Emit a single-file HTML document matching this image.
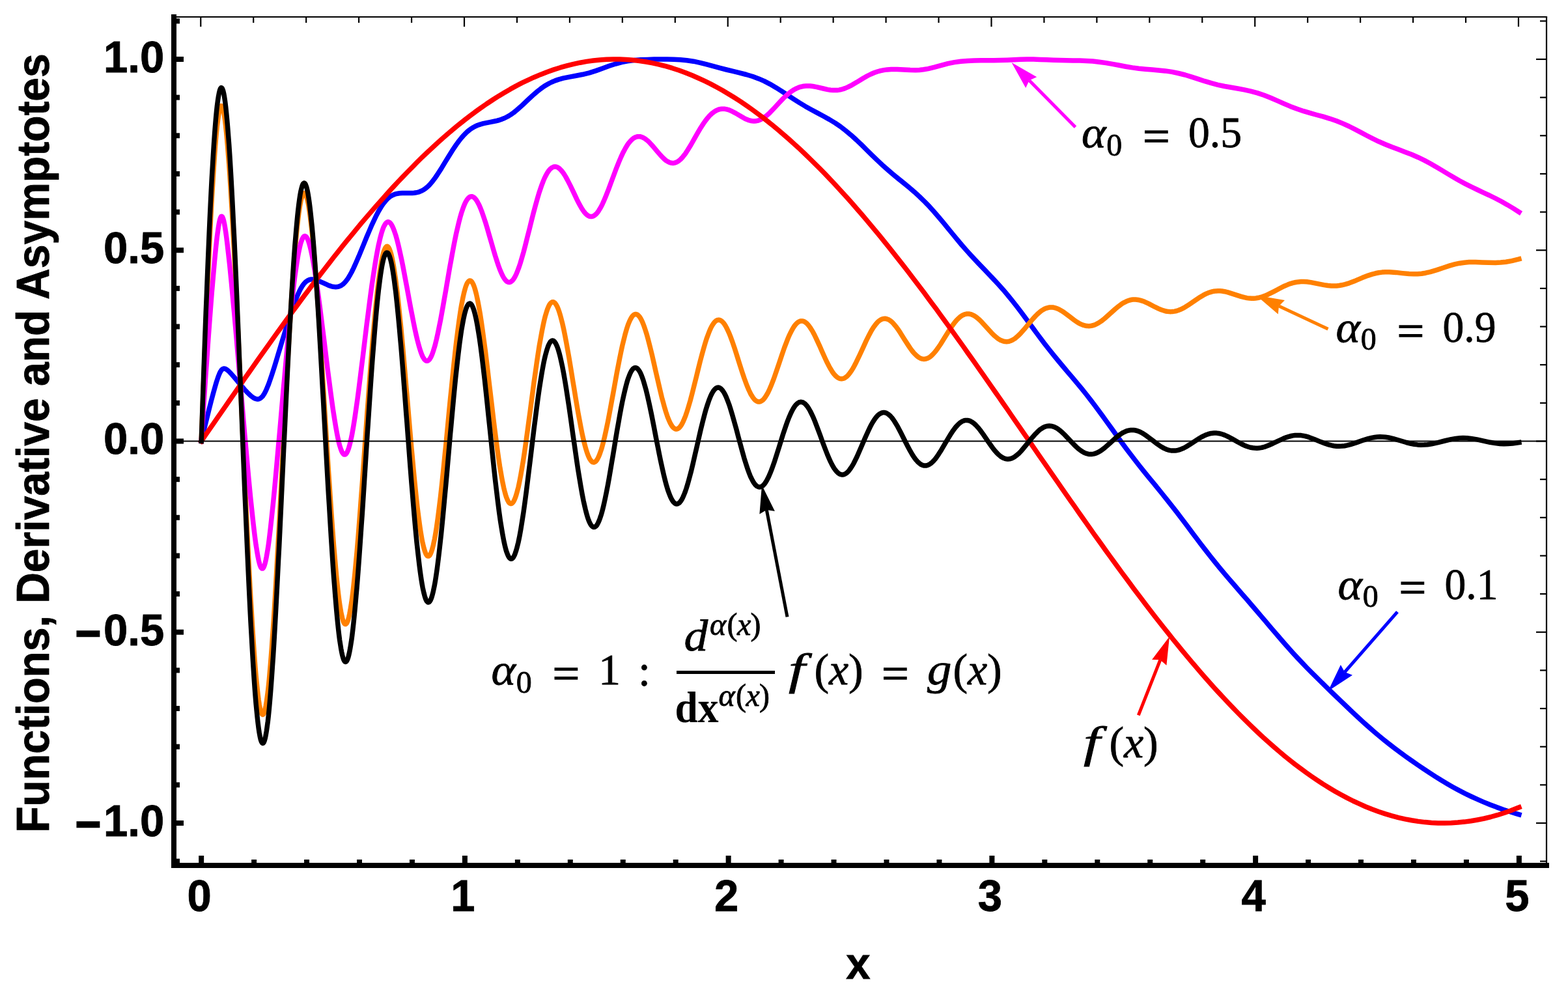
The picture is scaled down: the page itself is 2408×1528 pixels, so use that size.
<!DOCTYPE html>
<html lang="en"><head><meta charset="utf-8"><title>Functions, Derivative and Asymptotes</title>
<style>html,body{margin:0;padding:0;background:#fff;}body{width:2408px;height:1528px;overflow:hidden;}svg{display:block;}.sb{font-family:"Liberation Sans",sans-serif;font-weight:bold;fill:#000;}.se{font-family:"Liberation Serif",serif;fill:#000;}.it{font-style:italic;}.bd{font-weight:bold;}</style></head><body>
<svg width="2408" height="1528" viewBox="0 0 2408 1528">
<rect x="0" y="0" width="2408" height="1528" fill="#fff"/>
<g fill="none" stroke-width="7.5" stroke-linejoin="round" stroke-linecap="square">
<path stroke="#0000ff" d="M309.2 677.5 L312.2 664.8 L315.2 652.3 L318.3 639.9 L321.3 627.7 L324.3 615.8 L327.4 604.3 L330.4 593.4 L332.4 586.6 L334.5 580.4 L335.5 577.6 L336.5 575.1 L337.5 572.8 L338.5 570.8 L339.5 569.2 L340.5 567.9 L341.5 567.0 L342.6 566.4 L343.6 566.1 L344.6 566.1 L345.6 566.3 L346.6 566.7 L347.6 567.2 L348.6 567.9 L349.6 568.7 L351.7 570.5 L354.7 573.6 L361.8 581.8 L368.9 590.3 L375.9 598.5 L380.0 602.9 L383.0 605.8 L385.0 607.6 L387.1 609.3 L389.1 610.7 L390.1 611.3 L391.1 611.8 L392.1 612.2 L393.1 612.6 L394.2 612.8 L395.2 612.9 L396.2 612.9 L397.2 612.8 L398.2 612.5 L399.2 612.0 L400.2 611.4 L401.2 610.6 L402.3 609.6 L403.3 608.5 L404.3 607.1 L405.3 605.5 L406.3 603.8 L407.3 601.9 L408.3 599.9 L410.3 595.3 L412.4 590.2 L414.4 584.6 L417.4 575.7 L421.5 563.0 L424.5 553.1 L427.5 543.0 L430.6 532.9 L433.6 522.8 L436.7 512.8 L439.7 502.9 L442.7 493.2 L446.8 480.8 L450.8 469.2 L453.9 461.1 L455.9 456.0 L457.9 451.3 L459.9 447.0 L461.9 443.1 L463.0 441.4 L464.0 439.7 L465.0 438.2 L466.0 436.8 L467.0 435.5 L468.0 434.4 L469.0 433.4 L470.0 432.5 L471.1 431.7 L472.1 431.0 L473.1 430.4 L474.1 430.0 L475.1 429.6 L476.1 429.3 L477.1 429.1 L478.1 429.0 L479.2 428.9 L480.2 429.0 L482.2 429.2 L484.2 429.6 L486.2 430.2 L489.3 431.3 L498.4 435.4 L503.4 437.7 L506.5 438.9 L509.5 439.8 L511.5 440.3 L513.6 440.6 L515.6 440.7 L517.6 440.6 L518.6 440.4 L519.6 440.2 L520.6 439.9 L521.6 439.5 L522.7 439.1 L523.7 438.6 L524.7 438.0 L525.7 437.3 L526.7 436.5 L527.7 435.6 L528.7 434.6 L529.7 433.6 L531.8 431.1 L533.8 428.4 L535.8 425.2 L537.8 421.8 L539.9 418.0 L542.9 411.9 L546.9 403.0 L551.0 393.6 L555.0 383.8 L559.1 373.9 L563.1 364.0 L567.2 354.4 L571.2 345.1 L575.3 336.4 L578.3 330.2 L581.3 324.5 L584.4 319.3 L586.4 316.1 L588.4 313.2 L590.5 310.5 L592.5 308.1 L594.5 305.9 L596.5 304.0 L598.5 302.4 L600.6 301.0 L602.6 299.9 L604.6 299.0 L606.6 298.2 L608.7 297.6 L610.7 297.2 L613.7 296.8 L617.8 296.5 L627.9 296.6 L633.0 296.5 L636.0 296.3 L639.0 295.8 L641.0 295.4 L643.1 294.9 L645.1 294.1 L647.1 293.3 L649.1 292.2 L651.2 291.0 L653.2 289.6 L655.2 288.0 L657.2 286.2 L659.3 284.2 L661.3 282.0 L664.3 278.3 L667.4 274.3 L671.4 268.5 L677.5 259.1 L683.5 249.1 L689.6 239.2 L695.7 229.6 L700.7 222.1 L704.8 216.5 L708.8 211.5 L711.9 208.0 L714.9 204.9 L717.9 202.0 L721.0 199.5 L724.0 197.4 L727.1 195.5 L730.1 193.9 L733.1 192.5 L737.2 191.1 L742.2 189.7 L752.4 187.6 L761.5 185.8 L766.5 184.5 L770.6 183.1 L774.6 181.5 L777.6 180.0 L780.7 178.4 L784.7 175.9 L788.8 173.0 L793.8 168.9 L801.9 161.7 L810.0 154.0 L818.1 146.5 L825.2 140.4 L830.3 136.4 L835.3 132.8 L839.4 130.3 L843.4 128.0 L847.5 126.0 L852.5 123.9 L857.6 122.1 L864.7 120.2 L874.8 118.1 L884.9 116.3 L895.0 114.3 L905.1 111.8 L915.3 108.6 L925.4 105.0 L935.5 101.3 L945.6 98.0 L954.7 95.6 L963.8 93.9 L973.9 92.6 L984.1 91.8 L994.2 91.4 L1004.3 91.1 L1014.4 91.0 L1024.5 91.0 L1034.7 91.2 L1044.8 91.7 L1054.9 92.7 L1065.0 94.2 L1075.1 96.3 L1085.2 98.9 L1095.4 101.6 L1105.5 104.4 L1115.6 107.0 L1125.7 109.4 L1135.8 111.8 L1146.0 114.5 L1156.1 117.5 L1165.2 120.9 L1173.3 124.4 L1182.4 129.1 L1191.5 134.4 L1200.6 140.1 L1209.7 146.1 L1218.8 152.1 L1227.9 157.9 L1237.0 163.4 L1246.1 168.5 L1255.2 173.4 L1264.3 178.3 L1273.5 183.4 L1282.6 188.9 L1290.7 194.4 L1298.7 200.6 L1306.8 207.3 L1314.9 214.6 L1323.0 222.3 L1331.1 230.3 L1339.2 238.3 L1347.3 246.1 L1355.4 253.7 L1363.5 260.9 L1371.6 267.8 L1379.7 274.5 L1387.8 281.0 L1395.9 287.7 L1404.0 294.6 L1412.1 302.0 L1420.2 309.9 L1427.3 317.2 L1434.3 325.1 L1441.4 333.3 L1448.5 341.7 L1455.6 350.3 L1462.7 359.0 L1469.8 367.6 L1476.8 376.0 L1483.9 384.1 L1491.0 392.0 L1498.1 399.6 L1505.2 407.1 L1512.2 414.4 L1519.3 421.8 L1526.4 429.3 L1533.5 437.0 L1540.6 444.9 L1547.7 453.3 L1554.7 462.0 L1561.8 471.0 L1567.9 479.0 L1574.0 487.2 L1580.0 495.4 L1586.1 503.6 L1592.2 511.9 L1598.3 520.0 L1604.3 527.9 L1611.4 537.0 L1618.5 545.9 L1625.6 554.5 L1632.7 563.0 L1639.7 571.3 L1646.8 579.7 L1653.9 588.1 L1661.0 596.7 L1668.1 605.5 L1675.2 614.6 L1681.2 622.5 L1687.3 630.7 L1693.4 639.0 L1699.4 647.4 L1705.5 655.8 L1711.6 664.3 L1717.7 672.7 L1723.7 681.0 L1729.8 689.3 L1735.9 697.3 L1743.0 706.5 L1750.0 715.5 L1757.1 724.4 L1764.2 733.1 L1771.3 741.7 L1778.4 750.3 L1785.4 759.0 L1792.5 767.9 L1799.6 776.8 L1806.7 785.9 L1813.8 795.2 L1819.9 803.2 L1825.9 811.3 L1832.0 819.4 L1838.1 827.4 L1844.1 835.4 L1851.2 844.6 L1858.3 853.7 L1865.4 862.6 L1872.5 871.3 L1879.6 879.8 L1886.6 888.1 L1893.7 896.3 L1900.8 904.5 L1907.9 912.7 L1915.0 920.8 L1922.0 929.0 L1929.1 937.3 L1936.2 945.6 L1943.3 953.9 L1950.4 962.3 L1957.5 970.6 L1964.5 978.8 L1971.6 987.0 L1978.7 995.0 L1985.8 1002.9 L1992.9 1010.6 L2000.0 1018.1 L2007.0 1025.5 L2014.1 1032.7 L2021.2 1039.7 L2029.3 1047.7 L2037.4 1055.6 L2045.5 1063.5 L2053.6 1071.3 L2061.7 1079.0 L2069.8 1086.8 L2077.9 1094.4 L2086.0 1102.0 L2094.1 1109.4 L2102.2 1116.6 L2110.3 1123.7 L2118.3 1130.5 L2126.4 1137.1 L2134.5 1143.5 L2142.6 1149.7 L2150.7 1155.8 L2158.8 1161.7 L2167.9 1168.1 L2177.0 1174.5 L2186.1 1180.7 L2195.2 1186.7 L2204.4 1192.6 L2213.5 1198.3 L2222.6 1203.7 L2231.7 1208.9 L2240.8 1213.9 L2249.9 1218.6 L2259.0 1223.0 L2268.1 1227.2 L2278.2 1231.6 L2288.3 1235.7 L2298.5 1239.6 L2308.6 1243.2 L2318.7 1246.5 L2328.8 1249.6 L2332.9 1250.8"/>
<path stroke="#ff8000" d="M309.2 677.5 L310.2 651.0 L311.2 624.8 L312.2 598.7 L313.2 573.0 L314.2 547.6 L315.2 522.6 L316.2 498.0 L317.3 473.9 L318.3 450.4 L319.3 427.5 L320.3 405.2 L321.3 383.6 L322.3 362.7 L323.3 342.6 L324.3 323.3 L325.3 304.9 L326.4 287.4 L327.4 270.8 L328.4 255.2 L329.4 240.7 L330.4 227.2 L331.4 214.8 L332.4 203.7 L333.4 193.7 L334.5 185.0 L335.5 177.6 L336.5 171.7 L337.5 167.1 L338.5 164.1 L339.5 162.6 L340.5 162.7 L341.5 164.3 L342.6 167.4 L343.6 171.9 L344.6 177.8 L345.6 185.0 L346.6 193.5 L347.6 203.1 L348.6 213.8 L349.6 225.6 L350.6 238.4 L351.7 252.0 L352.7 266.6 L353.7 282.0 L354.7 298.2 L355.7 315.2 L356.7 332.8 L357.7 351.1 L358.7 370.0 L359.8 389.5 L360.8 409.5 L361.8 429.9 L362.8 450.8 L363.8 472.0 L364.8 493.6 L365.8 515.4 L366.8 537.5 L367.8 559.8 L368.9 582.1 L369.9 604.6 L370.9 627.1 L371.9 649.6 L372.9 672.1 L373.9 694.4 L374.9 716.6 L375.9 738.5 L377.0 760.2 L378.0 781.7 L379.0 802.8 L380.0 823.5 L381.0 843.7 L382.0 863.5 L383.0 882.8 L384.0 901.5 L385.0 919.6 L386.1 937.1 L387.1 953.8 L388.1 969.9 L389.1 985.2 L390.1 999.6 L391.1 1013.2 L392.1 1026.0 L393.1 1037.8 L394.2 1048.6 L395.2 1058.4 L396.2 1067.2 L397.2 1075.0 L398.2 1081.6 L399.2 1087.1 L400.2 1091.4 L401.2 1094.6 L402.3 1096.6 L403.3 1097.4 L404.3 1097.0 L405.3 1095.4 L406.3 1092.6 L407.3 1088.7 L408.3 1083.7 L409.3 1077.5 L410.3 1070.3 L411.4 1062.1 L412.4 1052.9 L413.4 1042.8 L414.4 1031.7 L415.4 1019.8 L416.4 1007.1 L417.4 993.7 L418.4 979.5 L419.5 964.6 L420.5 949.1 L421.5 933.1 L422.5 916.4 L423.5 899.3 L424.5 881.8 L425.5 863.8 L426.5 845.5 L427.5 826.9 L428.6 808.0 L429.6 788.9 L430.6 769.6 L431.6 750.2 L432.6 730.6 L433.6 711.1 L434.6 691.5 L435.6 672.0 L436.7 652.6 L437.7 633.3 L438.7 614.1 L439.7 595.2 L440.7 576.6 L441.7 558.2 L442.7 540.2 L443.7 522.6 L444.7 505.3 L445.8 488.6 L446.8 472.3 L447.8 456.5 L448.8 441.4 L449.8 426.8 L450.8 412.8 L451.8 399.5 L452.8 386.9 L453.9 375.0 L454.9 363.9 L455.9 353.5 L456.9 344.0 L457.9 335.3 L458.9 327.4 L459.9 320.3 L460.9 314.2 L461.9 308.9 L463.0 304.6 L464.0 301.2 L465.0 298.7 L466.0 297.1 L467.0 296.5 L468.0 296.7 L469.0 297.9 L470.0 300.0 L471.1 303.0 L472.1 306.9 L473.1 311.6 L474.1 317.2 L475.1 323.6 L476.1 330.8 L477.1 338.7 L478.1 347.4 L479.2 356.8 L480.2 366.8 L481.2 377.6 L482.2 388.9 L483.2 400.8 L484.2 413.3 L485.2 426.3 L486.2 439.7 L487.2 453.6 L488.3 468.0 L489.3 482.6 L490.3 497.7 L491.3 513.0 L492.3 528.6 L493.3 544.4 L494.3 560.4 L495.3 576.5 L496.4 592.8 L497.4 609.1 L498.4 625.4 L499.4 641.8 L500.4 658.1 L501.4 674.3 L502.4 690.4 L503.4 706.4 L504.4 722.2 L505.5 737.7 L506.5 753.0 L507.5 767.9 L508.5 782.6 L509.5 796.8 L510.5 810.7 L511.5 824.1 L512.5 837.0 L513.6 849.5 L514.6 861.4 L515.6 872.7 L516.6 883.5 L517.6 893.6 L518.6 903.1 L519.6 911.9 L520.6 920.0 L521.6 927.4 L522.7 934.0 L523.7 939.9 L524.7 944.9 L525.7 949.2 L526.7 952.7 L527.7 955.4 L528.7 957.3 L529.7 958.3 L530.8 958.5 L531.8 957.9 L532.8 956.5 L533.8 954.2 L534.8 951.2 L535.8 947.4 L536.8 942.8 L537.8 937.5 L538.8 931.4 L539.9 924.7 L540.9 917.3 L541.9 909.2 L542.9 900.5 L544.9 881.3 L545.9 870.9 L546.9 860.0 L548.0 848.7 L549.0 836.9 L550.0 824.7 L551.0 812.1 L552.0 799.2 L553.0 786.0 L554.0 772.5 L555.0 758.9 L556.1 745.0 L557.1 730.9 L558.1 716.8 L559.1 702.5 L560.1 688.2 L561.1 673.9 L562.1 659.6 L563.1 645.3 L564.1 631.1 L565.2 617.1 L566.2 603.2 L567.2 589.4 L568.2 575.9 L569.2 562.6 L570.2 549.6 L571.2 536.8 L572.2 524.4 L573.3 512.4 L574.3 500.7 L575.3 489.5 L576.3 478.6 L577.3 468.3 L579.3 449.0 L580.3 440.1 L581.3 431.8 L582.4 424.0 L583.4 416.8 L584.4 410.2 L585.4 404.1 L586.4 398.7 L587.4 393.9 L588.4 389.8 L589.4 386.2 L590.5 383.4 L591.5 381.1 L592.5 379.6 L593.5 378.6 L594.5 378.3 L595.5 378.7 L596.5 379.7 L597.5 381.3 L598.5 383.6 L599.6 386.5 L600.6 390.0 L601.6 394.0 L602.6 398.7 L603.6 403.9 L604.6 409.7 L605.6 416.0 L606.6 422.8 L607.7 430.0 L609.7 446.0 L611.7 463.7 L613.7 482.9 L614.7 492.9 L615.8 503.3 L616.8 514.0 L617.8 524.9 L618.8 536.0 L619.8 547.4 L620.8 558.8 L621.8 570.5 L622.8 582.2 L623.8 594.0 L624.9 605.8 L625.9 617.7 L626.9 629.6 L627.9 641.4 L628.9 653.2 L629.9 664.9 L630.9 676.4 L631.9 687.8 L633.0 699.1 L634.0 710.1 L635.0 720.9 L636.0 731.4 L637.0 741.6 L639.0 761.2 L641.0 779.3 L643.1 795.7 L644.1 803.3 L645.1 810.4 L646.1 817.1 L647.1 823.2 L648.1 828.8 L649.1 833.9 L650.2 838.4 L651.2 842.4 L652.2 845.8 L653.2 848.6 L654.2 850.9 L655.2 852.6 L656.2 853.7 L657.2 854.1 L658.2 854.1 L659.3 853.4 L660.3 852.1 L661.3 850.3 L662.3 847.9 L663.3 844.9 L664.3 841.4 L665.3 837.4 L666.3 832.8 L667.4 827.7 L668.4 822.2 L669.4 816.2 L670.4 809.7 L672.4 795.5 L674.4 779.8 L676.5 762.7 L678.5 744.5 L680.5 725.3 L682.5 705.3 L683.5 695.2 L684.6 684.9 L685.6 674.5 L686.6 664.0 L687.6 653.6 L688.6 643.1 L689.6 632.6 L690.6 622.2 L691.6 611.9 L692.7 601.6 L693.7 591.5 L694.7 581.5 L696.7 562.0 L698.7 543.4 L700.7 525.7 L702.8 509.2 L704.8 494.0 L706.8 480.2 L707.8 473.9 L708.8 468.0 L709.9 462.4 L710.9 457.3 L711.9 452.7 L712.9 448.4 L713.9 444.7 L714.9 441.3 L715.9 438.4 L716.9 436.0 L717.9 434.1 L719.0 432.6 L720.0 431.6 L721.0 431.0 L722.0 430.9 L723.0 431.3 L724.0 432.1 L725.0 433.4 L726.0 435.1 L727.1 437.3 L728.1 439.9 L729.1 442.9 L730.1 446.4 L731.1 450.2 L732.1 454.5 L733.1 459.1 L734.1 464.1 L735.1 469.4 L737.2 481.1 L739.2 494.0 L741.2 508.0 L743.2 522.9 L745.3 538.6 L747.3 555.0 L749.3 571.8 L751.3 588.9 L753.4 606.1 L755.4 623.2 L757.4 640.2 L759.4 656.7 L761.5 672.7 L763.5 688.0 L765.5 702.5 L767.5 715.9 L769.6 728.1 L770.6 733.8 L771.6 739.1 L772.6 744.1 L773.6 748.8 L774.6 753.0 L775.6 756.9 L776.6 760.4 L777.6 763.5 L778.7 766.2 L779.7 768.5 L780.7 770.3 L781.7 771.8 L782.7 772.8 L783.7 773.4 L784.7 773.5 L785.7 773.3 L786.8 772.6 L787.8 771.5 L788.8 770.0 L789.8 768.1 L790.8 765.8 L791.8 763.1 L792.8 760.0 L793.8 756.5 L794.8 752.7 L795.9 748.6 L796.9 744.1 L797.9 739.2 L799.9 728.7 L801.9 717.1 L804.0 704.4 L806.0 691.0 L808.0 676.9 L810.0 662.2 L812.0 647.2 L814.1 631.9 L816.1 616.6 L818.1 601.4 L820.1 586.3 L822.2 571.7 L824.2 557.5 L826.2 544.0 L828.2 531.2 L830.3 519.3 L832.3 508.3 L834.3 498.4 L835.3 493.9 L836.3 489.6 L837.3 485.7 L838.4 482.1 L839.4 478.7 L840.4 475.7 L841.4 473.1 L842.4 470.7 L843.4 468.7 L844.4 467.0 L845.4 465.7 L846.5 464.7 L847.5 464.0 L848.5 463.7 L849.5 463.7 L850.5 464.0 L851.5 464.7 L852.5 465.7 L853.5 467.0 L854.5 468.7 L855.6 470.6 L856.6 472.9 L857.6 475.4 L858.6 478.3 L859.6 481.4 L860.6 484.8 L861.6 488.5 L863.7 496.6 L865.7 505.6 L867.7 515.4 L869.7 526.0 L871.7 537.2 L873.8 548.8 L875.8 560.9 L877.8 573.2 L879.8 585.6 L881.9 598.0 L883.9 610.4 L885.9 622.4 L887.9 634.1 L890.0 645.3 L892.0 656.0 L894.0 665.9 L896.0 675.0 L898.1 683.2 L899.1 686.9 L900.1 690.4 L901.1 693.6 L902.1 696.6 L903.1 699.2 L904.1 701.6 L905.1 703.7 L906.2 705.5 L907.2 707.0 L908.2 708.2 L909.2 709.1 L910.2 709.7 L911.2 710.0 L912.2 710.0 L913.2 709.6 L914.2 709.0 L915.3 708.1 L916.3 706.8 L917.3 705.3 L918.3 703.5 L919.3 701.4 L920.3 699.1 L921.3 696.4 L922.3 693.6 L923.4 690.4 L924.4 687.1 L926.4 679.6 L928.4 671.4 L930.4 662.4 L933.5 647.7 L935.5 637.3 L937.5 626.5 L939.5 615.5 L941.6 604.3 L943.6 593.1 L945.6 582.0 L947.6 571.0 L949.7 560.3 L951.7 550.0 L953.7 540.2 L955.7 530.9 L957.8 522.3 L959.8 514.3 L961.8 507.2 L962.8 503.9 L963.8 500.9 L964.8 498.0 L965.9 495.4 L966.9 493.0 L967.9 490.9 L968.9 489.0 L969.9 487.3 L970.9 485.9 L971.9 484.7 L972.9 483.8 L973.9 483.1 L975.0 482.7 L976.0 482.5 L977.0 482.5 L978.0 482.8 L979.0 483.3 L980.0 484.1 L981.0 485.1 L982.0 486.3 L983.1 487.8 L984.1 489.5 L985.1 491.4 L986.1 493.5 L987.1 495.8 L988.1 498.3 L989.1 501.0 L991.1 506.9 L993.2 513.5 L995.2 520.7 L998.2 532.4 L1001.3 544.9 L1004.3 558.1 L1007.3 571.5 L1010.4 584.9 L1013.4 597.9 L1016.4 610.4 L1018.5 618.1 L1020.5 625.4 L1022.5 632.1 L1024.5 638.2 L1025.5 641.0 L1026.6 643.6 L1027.6 646.0 L1028.6 648.2 L1029.6 650.3 L1030.6 652.1 L1031.6 653.7 L1032.6 655.1 L1033.6 656.3 L1034.7 657.3 L1035.7 658.0 L1036.7 658.6 L1037.7 658.9 L1038.7 659.0 L1039.7 658.8 L1040.7 658.5 L1041.7 657.9 L1042.8 657.1 L1043.8 656.1 L1044.8 654.9 L1045.8 653.5 L1046.8 651.9 L1047.8 650.1 L1048.8 648.1 L1049.8 645.9 L1050.8 643.5 L1052.9 638.3 L1054.9 632.4 L1056.9 626.0 L1060.0 615.5 L1063.0 604.1 L1066.0 592.1 L1069.1 579.8 L1072.1 567.5 L1075.1 555.4 L1078.2 543.8 L1081.2 533.0 L1083.2 526.2 L1085.2 519.9 L1087.3 514.2 L1089.3 509.0 L1090.3 506.6 L1091.3 504.4 L1092.3 502.4 L1093.3 500.5 L1094.4 498.8 L1095.4 497.2 L1096.4 495.9 L1097.4 494.7 L1098.4 493.7 L1099.4 492.8 L1100.4 492.2 L1101.4 491.7 L1102.5 491.4 L1103.5 491.3 L1104.5 491.3 L1105.5 491.6 L1106.5 492.0 L1107.5 492.6 L1108.5 493.3 L1109.5 494.2 L1110.5 495.3 L1111.6 496.5 L1112.6 497.9 L1113.6 499.5 L1114.6 501.2 L1115.6 503.0 L1117.6 507.1 L1119.7 511.6 L1121.7 516.6 L1124.7 524.8 L1128.8 536.8 L1132.8 549.5 L1135.8 559.2 L1139.9 571.8 L1142.9 580.8 L1146.0 589.2 L1148.0 594.3 L1150.0 599.0 L1152.0 603.2 L1153.0 605.2 L1154.1 607.0 L1155.1 608.6 L1156.1 610.2 L1157.1 611.5 L1158.1 612.8 L1159.1 613.8 L1160.1 614.8 L1161.1 615.5 L1162.1 616.1 L1163.2 616.6 L1164.2 616.9 L1165.2 617.0 L1166.2 617.0 L1167.2 616.8 L1168.2 616.4 L1169.2 615.9 L1170.2 615.3 L1171.3 614.5 L1172.3 613.5 L1173.3 612.4 L1174.3 611.1 L1175.3 609.7 L1176.3 608.2 L1177.3 606.5 L1179.4 602.8 L1181.4 598.7 L1183.4 594.1 L1185.4 589.1 L1188.5 581.1 L1192.5 569.5 L1196.6 557.5 L1200.6 545.5 L1204.6 533.9 L1207.7 525.8 L1209.7 520.7 L1211.7 515.9 L1213.8 511.5 L1215.8 507.6 L1217.8 504.0 L1218.8 502.4 L1219.8 500.9 L1220.8 499.6 L1221.8 498.3 L1222.9 497.2 L1223.9 496.2 L1224.9 495.3 L1225.9 494.6 L1226.9 494.0 L1227.9 493.5 L1228.9 493.2 L1229.9 493.0 L1231.0 492.9 L1232.0 492.9 L1233.0 493.1 L1234.0 493.4 L1235.0 493.8 L1236.0 494.4 L1237.0 495.1 L1238.0 495.8 L1239.1 496.7 L1240.1 497.8 L1241.1 498.9 L1242.1 500.1 L1244.1 502.9 L1246.1 506.0 L1248.2 509.4 L1250.2 513.2 L1253.2 519.3 L1258.3 530.3 L1262.3 539.5 L1267.4 550.7 L1270.4 557.1 L1273.5 563.0 L1275.5 566.6 L1277.5 569.8 L1279.5 572.8 L1280.5 574.1 L1281.5 575.3 L1282.6 576.5 L1283.6 577.5 L1284.6 578.4 L1285.6 579.2 L1286.6 579.9 L1287.6 580.5 L1288.6 581.0 L1289.6 581.3 L1290.7 581.6 L1291.7 581.7 L1292.7 581.7 L1293.7 581.6 L1294.7 581.4 L1295.7 581.1 L1296.7 580.7 L1297.7 580.1 L1298.7 579.4 L1299.8 578.7 L1300.8 577.8 L1301.8 576.8 L1302.8 575.7 L1303.8 574.5 L1305.8 571.9 L1307.9 568.9 L1309.9 565.6 L1311.9 562.0 L1314.9 556.2 L1320.0 545.6 L1325.1 534.6 L1330.1 523.6 L1334.2 515.4 L1337.2 509.7 L1339.2 506.2 L1341.2 503.0 L1343.3 500.1 L1345.3 497.5 L1347.3 495.2 L1348.3 494.2 L1349.3 493.3 L1350.4 492.5 L1351.4 491.8 L1352.4 491.1 L1353.4 490.6 L1354.4 490.1 L1355.4 489.8 L1356.4 489.5 L1357.4 489.4 L1358.4 489.3 L1359.5 489.3 L1360.5 489.5 L1361.5 489.7 L1362.5 490.0 L1363.5 490.4 L1364.5 490.8 L1365.5 491.4 L1366.5 492.0 L1367.6 492.8 L1369.6 494.4 L1371.6 496.4 L1373.6 498.7 L1375.6 501.1 L1378.7 505.2 L1382.7 511.2 L1388.8 520.9 L1394.9 530.4 L1397.9 534.9 L1400.9 539.0 L1403.0 541.5 L1405.0 543.7 L1407.0 545.7 L1409.0 547.4 L1410.1 548.2 L1411.1 548.9 L1412.1 549.5 L1413.1 550.0 L1414.1 550.4 L1415.1 550.8 L1416.1 551.1 L1417.1 551.2 L1418.1 551.4 L1419.2 551.4 L1420.2 551.3 L1421.2 551.2 L1422.2 551.0 L1423.2 550.7 L1424.2 550.3 L1425.2 549.8 L1426.2 549.3 L1427.3 548.7 L1429.3 547.2 L1431.3 545.4 L1433.3 543.4 L1435.3 541.1 L1437.4 538.6 L1440.4 534.5 L1444.5 528.5 L1450.5 518.8 L1456.6 509.0 L1460.6 502.8 L1463.7 498.5 L1466.7 494.5 L1468.7 492.2 L1470.8 490.0 L1472.8 488.1 L1474.8 486.4 L1476.8 485.0 L1478.9 483.8 L1479.9 483.4 L1480.9 483.0 L1481.9 482.6 L1482.9 482.4 L1483.9 482.2 L1484.9 482.0 L1485.9 482.0 L1487.0 482.0 L1488.0 482.0 L1489.0 482.2 L1490.0 482.4 L1491.0 482.6 L1493.0 483.4 L1495.0 484.3 L1497.1 485.5 L1499.1 486.9 L1501.1 488.5 L1504.2 491.2 L1508.2 495.2 L1515.3 503.0 L1522.4 510.8 L1526.4 514.8 L1529.5 517.5 L1531.5 519.2 L1533.5 520.6 L1535.5 521.8 L1537.5 522.8 L1539.6 523.6 L1541.6 524.2 L1543.6 524.6 L1545.6 524.7 L1547.7 524.5 L1549.7 524.2 L1551.7 523.5 L1553.7 522.7 L1555.8 521.6 L1557.8 520.4 L1559.8 518.9 L1561.8 517.2 L1564.9 514.4 L1567.9 511.3 L1573.0 505.6 L1580.0 497.0 L1586.1 489.9 L1590.2 485.4 L1593.2 482.4 L1596.2 479.7 L1598.3 478.1 L1600.3 476.6 L1602.3 475.4 L1604.3 474.3 L1606.4 473.4 L1608.4 472.8 L1610.4 472.3 L1612.4 472.0 L1614.4 471.9 L1616.5 472.0 L1618.5 472.3 L1620.5 472.8 L1622.5 473.5 L1624.6 474.3 L1626.6 475.2 L1629.6 476.9 L1633.7 479.5 L1641.8 485.6 L1649.9 491.7 L1653.9 494.5 L1656.9 496.3 L1660.0 497.8 L1662.0 498.7 L1664.0 499.4 L1666.1 500.0 L1668.1 500.4 L1670.1 500.6 L1672.1 500.7 L1674.1 500.5 L1676.2 500.2 L1678.2 499.8 L1680.2 499.2 L1682.2 498.4 L1684.3 497.4 L1686.3 496.3 L1689.3 494.4 L1692.4 492.3 L1696.4 489.1 L1704.5 481.9 L1712.6 474.6 L1717.7 470.4 L1721.7 467.4 L1724.7 465.4 L1727.8 463.8 L1729.8 462.8 L1731.8 462.0 L1733.8 461.3 L1735.9 460.7 L1737.9 460.3 L1739.9 460.1 L1741.9 460.0 L1744.0 460.0 L1746.0 460.2 L1748.0 460.5 L1751.0 461.1 L1754.1 462.1 L1758.1 463.6 L1764.2 466.4 L1773.3 471.2 L1779.4 474.1 L1783.4 475.8 L1786.5 476.8 L1789.5 477.7 L1792.5 478.3 L1795.6 478.6 L1797.6 478.7 L1799.6 478.6 L1801.6 478.4 L1803.7 478.1 L1806.7 477.5 L1809.7 476.5 L1812.8 475.3 L1815.8 473.9 L1819.9 471.7 L1825.9 467.8 L1835.0 461.6 L1843.1 456.2 L1848.2 453.2 L1852.2 451.2 L1855.3 449.8 L1858.3 448.8 L1861.3 447.9 L1864.4 447.3 L1867.4 446.9 L1870.4 446.7 L1873.5 446.8 L1876.5 447.0 L1880.6 447.7 L1885.6 448.9 L1895.7 452.1 L1905.9 455.4 L1910.9 456.7 L1915.0 457.6 L1919.0 458.1 L1922.0 458.2 L1925.1 458.2 L1928.1 458.0 L1931.2 457.6 L1934.2 456.9 L1938.2 455.8 L1942.3 454.4 L1947.3 452.2 L1956.5 447.6 L1965.6 442.8 L1972.6 439.2 L1977.7 437.1 L1981.7 435.6 L1985.8 434.4 L1989.8 433.5 L1993.9 432.9 L1997.9 432.6 L2002.0 432.5 L2007.0 432.8 L2013.1 433.6 L2023.2 435.6 L2033.4 437.6 L2039.4 438.5 L2044.5 439.0 L2048.5 439.0 L2052.6 438.9 L2056.6 438.5 L2060.7 437.8 L2065.7 436.6 L2071.8 434.8 L2081.9 430.9 L2092.0 426.6 L2101.1 423.1 L2107.2 421.1 L2112.3 419.8 L2117.3 418.8 L2122.4 418.1 L2127.5 417.7 L2133.5 417.7 L2143.6 418.4 L2153.8 419.6 L2163.9 420.6 L2171.0 420.8 L2177.0 420.7 L2183.1 420.2 L2189.2 419.2 L2196.3 417.6 L2206.4 414.6 L2216.5 411.2 L2226.6 407.9 L2234.7 405.7 L2241.8 404.2 L2248.9 403.2 L2256.0 402.6 L2266.1 402.5 L2276.2 402.9 L2286.3 403.3 L2296.4 403.5 L2304.5 403.1 L2312.6 402.2 L2321.7 400.6 L2331.8 398.2 L2332.9 397.9"/>
<path stroke="#ff00ff" d="M309.2 677.5 L310.2 662.1 L311.2 646.9 L312.2 631.7 L313.2 616.6 L314.2 601.7 L315.2 586.8 L316.2 572.2 L317.3 557.6 L318.3 543.3 L319.3 529.1 L320.3 515.1 L321.3 501.4 L322.3 487.9 L323.3 474.6 L324.3 461.7 L325.3 449.0 L326.4 436.7 L327.4 424.7 L328.4 413.1 L329.4 402.0 L330.4 391.4 L331.4 381.3 L332.4 371.9 L333.4 363.2 L334.5 355.3 L335.5 348.4 L336.5 342.5 L337.5 337.9 L338.5 334.6 L339.5 332.6 L340.5 332.2 L341.5 333.1 L342.6 335.5 L343.6 339.0 L344.6 343.7 L345.6 349.4 L346.6 355.9 L347.6 363.1 L348.6 371.0 L350.6 388.3 L352.7 407.2 L354.7 427.3 L355.7 437.8 L356.7 448.5 L357.7 459.3 L358.7 470.3 L359.8 481.5 L360.8 492.8 L361.8 504.2 L362.8 515.8 L363.8 527.4 L364.8 539.1 L365.8 550.8 L366.8 562.6 L367.8 574.4 L368.9 586.2 L369.9 598.1 L370.9 609.9 L371.9 621.7 L372.9 633.5 L373.9 645.2 L374.9 656.9 L375.9 668.5 L377.0 680.0 L378.0 691.4 L379.0 702.7 L380.0 713.8 L381.0 724.8 L382.0 735.6 L383.0 746.3 L384.0 756.7 L385.0 766.9 L387.1 786.5 L389.1 804.9 L391.1 821.8 L392.1 829.6 L393.1 836.9 L394.2 843.7 L395.2 849.9 L396.2 855.4 L397.2 860.3 L398.2 864.5 L399.2 867.9 L400.2 870.5 L401.2 872.2 L402.3 873.1 L403.3 873.1 L404.3 872.2 L405.3 870.4 L406.3 867.7 L407.3 864.2 L408.3 859.8 L409.3 854.7 L410.3 848.9 L411.4 842.5 L412.4 835.4 L413.4 827.7 L415.4 811.0 L417.4 792.5 L419.5 772.7 L420.5 762.4 L421.5 751.9 L422.5 741.1 L423.5 730.2 L424.5 719.1 L425.5 707.9 L426.5 696.6 L427.5 685.2 L428.6 673.7 L429.6 662.2 L430.6 650.7 L431.6 639.1 L432.6 627.6 L433.6 616.1 L434.6 604.7 L435.6 593.3 L436.7 582.0 L437.7 570.7 L438.7 559.6 L439.7 548.6 L440.7 537.8 L441.7 527.1 L442.7 516.6 L443.7 506.2 L444.7 496.1 L446.8 476.6 L448.8 458.0 L450.8 440.7 L452.8 424.6 L454.9 410.1 L455.9 403.4 L456.9 397.2 L457.9 391.4 L458.9 386.2 L459.9 381.4 L460.9 377.1 L461.9 373.3 L463.0 370.1 L464.0 367.4 L465.0 365.4 L466.0 363.8 L467.0 362.9 L468.0 362.5 L469.0 362.7 L470.0 363.4 L471.1 364.7 L472.1 366.5 L473.1 368.8 L474.1 371.6 L475.1 374.9 L476.1 378.6 L477.1 382.7 L478.1 387.3 L479.2 392.2 L481.2 403.0 L483.2 415.0 L485.2 428.1 L487.2 442.0 L489.3 456.7 L491.3 472.0 L493.3 487.8 L495.3 503.8 L497.4 520.1 L499.4 536.5 L501.4 552.9 L503.4 569.1 L505.5 585.0 L507.5 600.4 L509.5 615.3 L511.5 629.5 L513.6 642.9 L515.6 655.1 L517.6 666.2 L518.6 671.2 L519.6 675.9 L520.6 680.2 L521.6 684.0 L522.7 687.5 L523.7 690.5 L524.7 693.0 L525.7 695.0 L526.7 696.5 L527.7 697.6 L528.7 698.1 L529.7 698.1 L530.8 697.6 L531.8 696.6 L532.8 695.0 L533.8 692.9 L534.8 690.4 L535.8 687.3 L536.8 683.8 L537.8 679.9 L538.8 675.5 L539.9 670.7 L540.9 665.5 L542.9 654.0 L544.9 641.3 L546.9 627.5 L549.0 612.8 L551.0 597.5 L553.0 581.5 L555.0 565.2 L557.1 548.6 L559.1 532.0 L561.1 515.4 L563.1 498.9 L565.2 482.8 L567.2 467.0 L569.2 451.7 L571.2 437.1 L573.3 423.2 L575.3 410.0 L577.3 397.8 L579.3 386.6 L581.3 376.4 L582.4 371.8 L583.4 367.4 L584.4 363.4 L585.4 359.7 L586.4 356.3 L587.4 353.2 L588.4 350.4 L589.4 348.0 L590.5 346.0 L591.5 344.3 L592.5 342.9 L593.5 341.9 L594.5 341.2 L595.5 340.8 L596.5 340.8 L597.5 341.2 L598.5 341.8 L599.6 342.8 L600.6 344.1 L601.6 345.7 L602.6 347.6 L603.6 349.8 L604.6 352.2 L605.6 354.9 L606.6 357.9 L607.7 361.1 L609.7 368.2 L611.7 376.2 L613.7 384.9 L616.8 399.0 L618.8 409.1 L620.8 419.5 L622.8 430.3 L624.9 441.2 L626.9 452.2 L628.9 463.2 L630.9 474.0 L633.0 484.6 L635.0 494.9 L637.0 504.7 L639.0 513.9 L641.0 522.4 L643.1 530.2 L644.1 533.7 L645.1 537.0 L646.1 540.1 L647.1 542.9 L648.1 545.4 L649.1 547.6 L650.2 549.5 L651.2 551.1 L652.2 552.4 L653.2 553.4 L654.2 554.0 L655.2 554.3 L656.2 554.3 L657.2 553.9 L658.2 553.3 L659.3 552.2 L660.3 550.9 L661.3 549.2 L662.3 547.2 L663.3 544.9 L664.3 542.3 L665.3 539.4 L666.3 536.2 L667.4 532.7 L668.4 529.0 L670.4 520.9 L672.4 511.9 L674.4 502.1 L676.5 491.7 L678.5 480.8 L680.5 469.5 L682.5 458.0 L684.6 446.3 L686.6 434.5 L688.6 422.8 L690.6 411.2 L692.7 399.8 L694.7 388.8 L696.7 378.1 L698.7 368.0 L700.7 358.3 L702.8 349.3 L704.8 340.9 L706.8 333.3 L708.8 326.4 L709.9 323.2 L710.9 320.3 L711.9 317.5 L712.9 315.0 L713.9 312.7 L714.9 310.6 L715.9 308.8 L716.9 307.1 L717.9 305.7 L719.0 304.5 L720.0 303.5 L721.0 302.7 L722.0 302.2 L723.0 301.9 L724.0 301.7 L725.0 301.8 L726.0 302.2 L727.1 302.7 L728.1 303.4 L729.1 304.3 L730.1 305.4 L731.1 306.7 L732.1 308.2 L733.1 309.8 L734.1 311.7 L735.1 313.6 L736.2 315.8 L738.2 320.5 L740.2 325.7 L742.2 331.4 L745.3 340.7 L748.3 350.7 L751.3 361.1 L754.4 371.7 L757.4 382.2 L760.4 392.4 L763.5 402.0 L765.5 408.0 L767.5 413.5 L769.6 418.4 L770.6 420.7 L771.6 422.8 L772.6 424.7 L773.6 426.5 L774.6 428.0 L775.6 429.4 L776.6 430.6 L777.6 431.6 L778.7 432.4 L779.7 432.9 L780.7 433.3 L781.7 433.4 L782.7 433.4 L783.7 433.1 L784.7 432.6 L785.7 431.8 L786.8 430.9 L787.8 429.8 L788.8 428.4 L789.8 426.8 L790.8 425.1 L791.8 423.1 L792.8 421.0 L793.8 418.6 L794.8 416.1 L796.9 410.6 L798.9 404.6 L800.9 397.9 L804.0 387.2 L807.0 375.7 L810.0 363.7 L813.1 351.6 L816.1 339.4 L819.1 327.5 L822.2 316.0 L825.2 305.2 L828.2 295.2 L830.3 289.0 L832.3 283.3 L834.3 278.1 L836.3 273.4 L838.4 269.3 L839.4 267.4 L840.4 265.7 L841.4 264.1 L842.4 262.6 L843.4 261.3 L844.4 260.2 L845.4 259.2 L846.5 258.3 L847.5 257.5 L848.5 257.0 L849.5 256.5 L850.5 256.2 L851.5 256.0 L852.5 256.0 L853.5 256.1 L854.5 256.3 L855.6 256.7 L856.6 257.1 L857.6 257.7 L858.6 258.5 L859.6 259.3 L860.6 260.3 L861.6 261.3 L862.6 262.5 L864.7 265.1 L866.7 268.1 L868.7 271.4 L871.7 276.9 L875.8 284.9 L880.9 295.5 L885.9 306.2 L889.0 312.2 L891.0 315.9 L893.0 319.4 L895.0 322.6 L897.0 325.4 L898.1 326.6 L899.1 327.8 L900.1 328.8 L901.1 329.7 L902.1 330.5 L903.1 331.2 L904.1 331.7 L905.1 332.2 L906.2 332.4 L907.2 332.6 L908.2 332.6 L909.2 332.5 L910.2 332.2 L911.2 331.8 L912.2 331.3 L913.2 330.6 L914.2 329.8 L915.3 328.9 L916.3 327.8 L917.3 326.6 L918.3 325.3 L919.3 323.8 L921.3 320.6 L923.4 316.9 L925.4 312.8 L927.4 308.4 L930.4 301.2 L934.5 290.9 L938.5 280.0 L942.6 269.0 L946.6 258.3 L950.7 248.2 L953.7 241.1 L956.7 234.6 L958.8 230.7 L960.8 227.0 L962.8 223.7 L964.8 220.7 L966.9 218.1 L968.9 215.8 L969.9 214.8 L970.9 213.9 L971.9 213.1 L972.9 212.3 L973.9 211.7 L975.0 211.1 L976.0 210.7 L977.0 210.3 L978.0 210.0 L979.0 209.8 L980.0 209.7 L981.0 209.7 L982.0 209.7 L983.1 209.8 L984.1 210.0 L985.1 210.3 L986.1 210.7 L987.1 211.1 L989.1 212.1 L991.1 213.4 L993.2 215.0 L995.2 216.7 L998.2 219.7 L1002.3 224.1 L1009.4 232.6 L1014.4 238.4 L1017.5 241.6 L1019.5 243.6 L1021.5 245.4 L1023.5 246.9 L1025.5 248.2 L1026.6 248.7 L1027.6 249.2 L1028.6 249.6 L1029.6 249.9 L1030.6 250.2 L1031.6 250.3 L1032.6 250.4 L1033.6 250.4 L1034.7 250.4 L1035.7 250.2 L1036.7 249.9 L1037.7 249.6 L1038.7 249.2 L1039.7 248.7 L1040.7 248.1 L1041.7 247.5 L1042.8 246.7 L1044.8 245.0 L1046.8 243.0 L1048.8 240.7 L1050.8 238.2 L1052.9 235.4 L1055.9 230.8 L1061.0 222.5 L1066.0 213.6 L1071.1 204.7 L1076.1 196.2 L1080.2 189.9 L1083.2 185.6 L1086.3 181.7 L1088.3 179.3 L1090.3 177.1 L1092.3 175.2 L1094.4 173.4 L1096.4 171.9 L1098.4 170.6 L1100.4 169.5 L1102.5 168.6 L1104.5 167.9 L1106.5 167.5 L1108.5 167.2 L1110.5 167.2 L1112.6 167.3 L1114.6 167.6 L1116.6 168.0 L1118.6 168.6 L1121.7 169.8 L1124.7 171.2 L1129.8 173.9 L1138.9 179.3 L1142.9 181.6 L1146.0 183.1 L1149.0 184.3 L1151.0 184.9 L1153.0 185.5 L1155.1 185.8 L1157.1 186.0 L1159.1 186.0 L1161.1 185.8 L1163.2 185.4 L1165.2 184.8 L1167.2 184.0 L1169.2 183.1 L1171.3 181.9 L1173.3 180.6 L1175.3 179.1 L1178.3 176.7 L1182.4 172.9 L1189.5 165.5 L1196.6 157.8 L1202.6 151.4 L1206.7 147.5 L1210.7 143.9 L1213.8 141.5 L1216.8 139.4 L1219.8 137.5 L1222.9 135.9 L1225.9 134.6 L1228.9 133.5 L1232.0 132.8 L1235.0 132.2 L1238.0 131.9 L1241.1 131.9 L1244.1 132.0 L1248.2 132.5 L1254.2 133.6 L1264.3 136.0 L1271.4 137.6 L1275.5 138.2 L1279.5 138.6 L1282.6 138.6 L1285.6 138.5 L1288.6 138.1 L1291.7 137.5 L1294.7 136.6 L1297.7 135.6 L1301.8 133.9 L1306.8 131.4 L1316.0 126.1 L1325.1 120.5 L1332.1 116.5 L1337.2 114.0 L1342.3 111.8 L1347.3 110.0 L1352.4 108.6 L1357.4 107.6 L1362.5 106.9 L1368.6 106.5 L1377.7 106.5 L1387.8 107.1 L1397.9 107.6 L1406.0 107.7 L1412.1 107.5 L1418.1 106.8 L1425.2 105.6 L1435.3 103.1 L1445.5 100.3 L1455.6 97.7 L1465.7 95.6 L1475.8 94.2 L1485.9 93.4 L1496.1 92.9 L1506.2 92.8 L1516.3 92.8 L1526.4 92.8 L1536.5 92.6 L1546.7 92.3 L1556.8 91.8 L1566.9 91.3 L1577.0 91.0 L1587.1 91.1 L1597.2 91.4 L1607.4 91.8 L1617.5 92.2 L1627.6 92.5 L1637.7 92.7 L1647.8 92.9 L1658.0 93.1 L1668.1 93.5 L1678.2 94.1 L1688.3 95.2 L1698.4 96.6 L1708.5 98.4 L1718.7 100.3 L1728.8 102.2 L1738.9 103.9 L1749.0 105.2 L1759.1 106.2 L1769.3 107.0 L1779.4 107.9 L1789.5 108.9 L1799.6 110.4 L1809.7 112.5 L1819.9 115.0 L1830.0 118.1 L1840.1 121.4 L1850.2 124.7 L1860.3 127.7 L1870.4 130.3 L1880.6 132.5 L1890.7 134.3 L1900.8 136.0 L1910.9 137.9 L1921.0 140.1 L1931.2 142.9 L1941.3 146.3 L1951.4 150.3 L1961.5 154.6 L1971.6 159.1 L1981.7 163.4 L1991.9 167.3 L2002.0 170.7 L2012.1 173.7 L2022.2 176.5 L2032.3 179.2 L2042.5 182.3 L2052.6 185.8 L2062.7 189.9 L2071.8 194.0 L2080.9 198.6 L2090.0 203.4 L2099.1 208.2 L2108.2 212.9 L2117.3 217.3 L2127.5 221.7 L2137.6 225.8 L2147.7 229.6 L2157.8 233.4 L2167.9 237.3 L2178.0 241.7 L2187.2 246.1 L2196.3 251.0 L2205.4 256.2 L2214.5 261.6 L2223.6 267.1 L2232.7 272.5 L2241.8 277.7 L2250.9 282.6 L2260.0 287.2 L2269.1 291.5 L2278.2 295.8 L2287.3 300.0 L2296.4 304.5 L2305.5 309.3 L2314.6 314.4 L2323.8 319.9 L2332.9 325.7"/>
<path stroke="#ff0000" d="M309.2 677.5 L315.2 668.7 L321.3 659.9 L327.4 651.1 L333.4 642.3 L339.5 633.6 L345.6 624.8 L351.7 616.0 L357.7 607.3 L363.8 598.6 L369.9 589.9 L375.9 581.2 L382.0 572.5 L388.1 563.9 L394.2 555.2 L400.2 546.6 L406.3 538.1 L412.4 529.6 L418.4 521.1 L424.5 512.6 L430.6 504.2 L436.7 495.8 L442.7 487.4 L448.8 479.1 L454.9 470.9 L460.9 462.7 L467.0 454.5 L473.1 446.4 L479.2 438.3 L485.2 430.3 L491.3 422.4 L498.4 413.2 L505.5 404.1 L512.5 395.0 L519.6 386.1 L526.7 377.2 L533.8 368.4 L540.9 359.8 L548.0 351.2 L555.0 342.7 L562.1 334.3 L569.2 326.1 L576.3 317.9 L583.4 309.9 L590.5 301.9 L597.5 294.1 L604.6 286.4 L611.7 278.8 L618.8 271.3 L625.9 264.0 L633.0 256.8 L640.0 249.7 L648.1 241.7 L656.2 234.0 L664.3 226.4 L672.4 219.0 L680.5 211.8 L688.6 204.7 L696.7 197.9 L704.8 191.2 L712.9 184.8 L721.0 178.5 L729.1 172.4 L738.2 165.9 L747.3 159.5 L756.4 153.5 L765.5 147.7 L774.6 142.2 L783.7 136.9 L792.8 131.9 L801.9 127.2 L811.0 122.8 L820.1 118.7 L830.3 114.4 L840.4 110.5 L850.5 106.9 L860.6 103.7 L870.7 100.8 L880.9 98.3 L891.0 96.2 L901.1 94.4 L911.2 93.0 L921.3 92.0 L931.4 91.3 L941.6 91.0 L951.7 91.1 L961.8 91.5 L971.9 92.3 L982.0 93.5 L992.2 95.0 L1002.3 96.9 L1012.4 99.1 L1022.5 101.7 L1032.6 104.7 L1042.8 108.0 L1052.9 111.7 L1063.0 115.8 L1073.1 120.2 L1082.2 124.4 L1091.3 128.9 L1100.4 133.8 L1109.5 138.8 L1118.6 144.2 L1127.7 149.8 L1136.9 155.7 L1146.0 161.9 L1155.1 168.3 L1163.2 174.2 L1171.3 180.3 L1179.4 186.7 L1187.4 193.2 L1195.5 199.9 L1203.6 206.8 L1211.7 213.9 L1219.8 221.2 L1227.9 228.6 L1236.0 236.3 L1244.1 244.1 L1252.2 252.1 L1259.3 259.2 L1266.4 266.4 L1273.5 273.8 L1280.5 281.3 L1287.6 289.0 L1294.7 296.7 L1301.8 304.6 L1308.9 312.6 L1316.0 320.7 L1323.0 328.8 L1330.1 337.2 L1337.2 345.6 L1344.3 354.1 L1351.4 362.7 L1358.4 371.4 L1365.5 380.2 L1372.6 389.1 L1379.7 398.1 L1386.8 407.1 L1393.9 416.3 L1400.9 425.5 L1407.0 433.5 L1413.1 441.5 L1419.2 449.6 L1425.2 457.7 L1431.3 465.9 L1437.4 474.1 L1443.4 482.4 L1449.5 490.7 L1455.6 499.1 L1461.7 507.5 L1467.7 515.9 L1473.8 524.4 L1479.9 532.9 L1485.9 541.5 L1492.0 550.0 L1498.1 558.6 L1504.2 567.3 L1510.2 575.9 L1516.3 584.6 L1522.4 593.3 L1528.4 602.0 L1534.5 610.7 L1540.6 619.5 L1546.7 628.2 L1552.7 637.0 L1558.8 645.8 L1564.9 654.6 L1570.9 663.4 L1577.0 672.2 L1583.1 681.0 L1589.2 689.8 L1595.2 698.6 L1601.3 707.3 L1607.4 716.1 L1613.4 724.9 L1619.5 733.7 L1625.6 742.4 L1631.6 751.1 L1637.7 759.9 L1643.8 768.6 L1649.9 777.2 L1655.9 785.9 L1662.0 794.5 L1668.1 803.1 L1674.1 811.7 L1680.2 820.3 L1686.3 828.8 L1692.4 837.3 L1698.4 845.7 L1704.5 854.1 L1710.6 862.5 L1716.6 870.8 L1722.7 879.1 L1728.8 887.3 L1734.9 895.5 L1740.9 903.7 L1747.0 911.8 L1753.1 919.8 L1759.1 927.8 L1766.2 937.0 L1773.3 946.2 L1780.4 955.3 L1787.5 964.3 L1794.6 973.2 L1801.6 982.0 L1808.7 990.7 L1815.8 999.4 L1822.9 1007.9 L1830.0 1016.3 L1837.1 1024.6 L1844.1 1032.9 L1851.2 1041.0 L1858.3 1049.0 L1865.4 1056.9 L1872.5 1064.6 L1879.6 1072.3 L1886.6 1079.8 L1893.7 1087.2 L1900.8 1094.5 L1907.9 1101.6 L1916.0 1109.7 L1924.1 1117.5 L1932.2 1125.2 L1940.3 1132.7 L1948.4 1140.0 L1956.5 1147.1 L1964.5 1154.0 L1972.6 1160.8 L1980.7 1167.3 L1988.8 1173.7 L1996.9 1179.8 L2005.0 1185.8 L2014.1 1192.2 L2023.2 1198.4 L2032.3 1204.4 L2041.4 1210.0 L2050.6 1215.4 L2059.7 1220.5 L2068.8 1225.4 L2077.9 1230.0 L2087.0 1234.2 L2097.1 1238.7 L2107.2 1242.8 L2117.3 1246.5 L2127.5 1249.9 L2137.6 1252.9 L2147.7 1255.6 L2157.8 1257.9 L2167.9 1259.8 L2178.0 1261.4 L2188.2 1262.6 L2198.3 1263.4 L2208.4 1263.9 L2218.5 1264.0 L2228.6 1263.7 L2238.8 1263.1 L2248.9 1262.1 L2259.0 1260.8 L2269.1 1259.0 L2279.2 1257.0 L2289.4 1254.5 L2299.5 1251.7 L2309.6 1248.5 L2319.7 1245.0 L2329.8 1241.1 L2332.9 1239.9"/>
<path stroke="#000000" d="M309.2 677.5 L310.2 648.3 L311.2 619.2 L312.2 590.5 L313.2 562.1 L314.2 534.2 L315.2 506.8 L316.2 479.9 L317.3 453.6 L318.3 428.1 L319.3 403.3 L320.3 379.3 L321.3 356.1 L322.3 333.9 L323.3 312.7 L324.3 292.4 L325.3 273.3 L326.4 255.2 L327.4 238.3 L328.4 222.6 L329.4 208.0 L330.4 194.8 L331.4 182.8 L332.4 172.1 L333.4 162.7 L334.5 154.6 L335.5 147.9 L336.5 142.6 L337.5 138.6 L338.5 136.0 L339.5 134.7 L340.5 134.9 L341.5 136.3 L342.6 139.1 L343.6 143.3 L344.6 148.7 L345.6 155.5 L346.6 163.5 L347.6 172.8 L348.6 183.3 L349.6 194.9 L350.6 207.8 L351.7 221.7 L352.7 236.7 L353.7 252.7 L354.7 269.7 L355.7 287.7 L356.7 306.5 L357.7 326.1 L358.7 346.6 L359.8 367.7 L360.8 389.6 L361.8 412.0 L362.8 435.0 L363.8 458.5 L364.8 482.4 L365.8 506.7 L366.8 531.3 L367.8 556.1 L368.9 581.1 L369.9 606.3 L370.9 631.4 L371.9 656.6 L372.9 681.7 L373.9 706.7 L374.9 731.4 L375.9 755.9 L377.0 780.1 L378.0 803.9 L379.0 827.3 L380.0 850.2 L381.0 872.5 L382.0 894.3 L383.0 915.4 L384.0 935.8 L385.0 955.4 L386.1 974.3 L387.1 992.3 L388.1 1009.4 L389.1 1025.6 L390.1 1040.9 L391.1 1055.2 L392.1 1068.5 L393.1 1080.7 L394.2 1091.9 L395.2 1101.9 L396.2 1110.9 L397.2 1118.7 L398.2 1125.4 L399.2 1130.9 L400.2 1135.3 L401.2 1138.5 L402.3 1140.6 L403.3 1141.4 L404.3 1141.1 L405.3 1139.7 L406.3 1137.1 L407.3 1133.4 L408.3 1128.5 L409.3 1122.5 L410.3 1115.5 L411.4 1107.4 L412.4 1098.3 L413.4 1088.1 L414.4 1077.0 L415.4 1065.0 L416.4 1052.0 L417.4 1038.2 L418.4 1023.5 L419.5 1008.0 L420.5 991.8 L421.5 974.9 L422.5 957.3 L423.5 939.1 L424.5 920.4 L425.5 901.1 L426.5 881.4 L427.5 861.3 L428.6 840.8 L429.6 820.0 L430.6 798.9 L431.6 777.7 L432.6 756.3 L433.6 734.8 L434.6 713.2 L435.6 691.7 L436.7 670.3 L437.7 649.0 L438.7 627.9 L439.7 607.0 L440.7 586.3 L441.7 566.0 L442.7 546.1 L443.7 526.7 L444.7 507.6 L445.8 489.2 L446.8 471.2 L447.8 453.9 L448.8 437.2 L449.8 421.2 L450.8 406.0 L451.8 391.5 L452.8 377.7 L453.9 364.8 L454.9 352.7 L455.9 341.5 L456.9 331.2 L457.9 321.9 L458.9 313.4 L459.9 305.9 L460.9 299.4 L461.9 293.8 L463.0 289.3 L464.0 285.7 L465.0 283.1 L466.0 281.6 L467.0 281.0 L468.0 281.4 L469.0 282.8 L470.0 285.2 L471.1 288.5 L472.1 292.8 L473.1 298.1 L474.1 304.3 L475.1 311.3 L476.1 319.3 L477.1 328.1 L478.1 337.7 L479.2 348.2 L480.2 359.4 L481.2 371.3 L482.2 384.0 L483.2 397.3 L484.2 411.3 L485.2 425.8 L486.2 440.9 L487.2 456.6 L488.3 472.7 L489.3 489.2 L490.3 506.1 L491.3 523.4 L492.3 540.9 L493.3 558.8 L494.3 576.8 L495.3 595.0 L496.4 613.3 L497.4 631.7 L498.4 650.0 L499.4 668.4 L500.4 686.7 L501.4 704.9 L502.4 722.9 L503.4 740.8 L504.4 758.3 L505.5 775.6 L506.5 792.6 L507.5 809.2 L508.5 825.4 L509.5 841.1 L510.5 856.3 L511.5 871.0 L512.5 885.2 L513.6 898.7 L514.6 911.7 L515.6 924.0 L516.6 935.6 L517.6 946.5 L518.6 956.7 L519.6 966.2 L520.6 974.8 L521.6 982.7 L522.7 989.8 L523.7 996.1 L524.7 1001.5 L525.7 1006.1 L526.7 1009.9 L527.7 1012.8 L528.7 1014.8 L529.7 1016.0 L530.8 1016.4 L531.8 1015.9 L532.8 1014.5 L533.8 1012.4 L534.8 1009.4 L535.8 1005.5 L536.8 1000.9 L537.8 995.5 L538.8 989.3 L539.9 982.4 L540.9 974.8 L541.9 966.4 L542.9 957.4 L543.9 947.7 L544.9 937.4 L545.9 926.5 L546.9 915.0 L548.0 903.0 L549.0 890.5 L550.0 877.5 L551.0 864.0 L552.0 850.2 L553.0 836.0 L554.0 821.5 L555.0 806.7 L556.1 791.7 L557.1 776.4 L558.1 761.0 L559.1 745.4 L560.1 729.7 L561.1 714.0 L562.1 698.3 L563.1 682.6 L564.1 667.0 L565.2 651.5 L566.2 636.1 L567.2 620.9 L568.2 605.9 L569.2 591.2 L570.2 576.7 L571.2 562.6 L572.2 548.9 L573.3 535.5 L574.3 522.5 L575.3 510.0 L576.3 498.0 L577.3 486.5 L578.3 475.5 L579.3 465.1 L580.3 455.3 L581.3 446.1 L582.4 437.5 L583.4 429.5 L584.4 422.2 L585.4 415.6 L586.4 409.7 L587.4 404.4 L588.4 399.9 L589.4 396.1 L590.5 393.0 L591.5 390.6 L592.5 389.0 L593.5 388.1 L594.5 387.9 L595.5 388.5 L596.5 389.7 L597.5 391.7 L598.5 394.4 L599.6 397.8 L600.6 401.8 L601.6 406.6 L602.6 411.9 L603.6 418.0 L604.6 424.6 L605.6 431.8 L606.6 439.7 L607.7 448.0 L609.7 466.3 L611.7 486.6 L612.7 497.3 L613.7 508.5 L614.7 520.0 L615.8 531.9 L616.8 544.1 L617.8 556.5 L618.8 569.2 L619.8 582.1 L620.8 595.2 L621.8 608.4 L622.8 621.7 L623.8 635.1 L624.9 648.5 L625.9 662.0 L626.9 675.4 L627.9 688.7 L628.9 702.0 L629.9 715.1 L630.9 728.0 L631.9 740.8 L633.0 753.4 L634.0 765.7 L635.0 777.7 L636.0 789.4 L637.0 800.8 L638.0 811.8 L639.0 822.4 L640.0 832.6 L642.1 851.6 L644.1 868.8 L645.1 876.6 L646.1 883.8 L647.1 890.5 L648.1 896.7 L649.1 902.2 L650.2 907.2 L651.2 911.6 L652.2 915.3 L653.2 918.5 L654.2 921.0 L655.2 923.0 L656.2 924.2 L657.2 924.9 L658.2 925.0 L659.3 924.4 L660.3 923.2 L661.3 921.4 L662.3 919.0 L663.3 916.0 L664.3 912.5 L665.3 908.3 L666.3 903.6 L667.4 898.4 L668.4 892.6 L669.4 886.4 L670.4 879.6 L671.4 872.4 L673.4 856.6 L675.4 839.2 L677.5 820.3 L679.5 800.2 L680.5 789.7 L681.5 779.1 L682.5 768.2 L683.5 757.1 L684.6 746.0 L685.6 734.7 L686.6 723.3 L687.6 711.8 L688.6 700.3 L689.6 688.8 L690.6 677.4 L691.6 666.0 L692.7 654.7 L693.7 643.5 L694.7 632.5 L695.7 621.6 L696.7 610.9 L697.7 600.4 L698.7 590.2 L699.7 580.2 L701.8 561.2 L703.8 543.5 L705.8 527.4 L707.8 512.9 L708.8 506.3 L709.9 500.2 L710.9 494.5 L711.9 489.4 L712.9 484.7 L713.9 480.5 L714.9 476.9 L715.9 473.7 L716.9 471.1 L717.9 469.1 L719.0 467.5 L720.0 466.5 L721.0 466.0 L722.0 466.1 L723.0 466.6 L724.0 467.7 L725.0 469.4 L726.0 471.5 L727.1 474.1 L728.1 477.3 L729.1 480.9 L730.1 485.0 L731.1 489.5 L732.1 494.5 L733.1 499.9 L734.1 505.8 L736.2 518.7 L738.2 533.0 L740.2 548.6 L742.2 565.4 L744.3 583.1 L746.3 601.6 L748.3 620.6 L750.3 640.0 L752.4 659.6 L754.4 679.2 L756.4 698.6 L758.4 717.6 L760.4 736.0 L762.5 753.6 L764.5 770.3 L766.5 785.9 L768.5 800.2 L770.6 813.2 L771.6 819.2 L772.6 824.7 L773.6 829.9 L774.6 834.6 L775.6 839.0 L776.6 842.9 L777.6 846.4 L778.7 849.4 L779.7 852.0 L780.7 854.2 L781.7 855.9 L782.7 857.1 L783.7 857.9 L784.7 858.3 L785.7 858.2 L786.8 857.6 L787.8 856.6 L788.8 855.1 L789.8 853.2 L790.8 850.9 L791.8 848.1 L792.8 845.0 L793.8 841.4 L794.8 837.5 L795.9 833.1 L796.9 828.4 L797.9 823.4 L799.9 812.3 L801.9 799.9 L804.0 786.5 L806.0 772.1 L808.0 756.9 L810.0 741.0 L812.0 724.7 L814.1 708.1 L816.1 691.4 L818.1 674.6 L820.1 658.1 L822.2 641.9 L824.2 626.2 L826.2 611.2 L828.2 597.1 L830.3 583.8 L832.3 571.6 L834.3 560.6 L835.3 555.6 L836.3 550.9 L837.3 546.6 L838.4 542.5 L839.4 538.9 L840.4 535.6 L841.4 532.7 L842.4 530.1 L843.4 528.0 L844.4 526.2 L845.4 524.8 L846.5 523.8 L847.5 523.2 L848.5 523.0 L849.5 523.2 L850.5 523.7 L851.5 524.6 L852.5 526.0 L853.5 527.6 L854.5 529.7 L855.6 532.1 L856.6 534.8 L857.6 537.9 L858.6 541.4 L859.6 545.1 L860.6 549.2 L861.6 553.6 L863.7 563.2 L865.7 573.8 L867.7 585.4 L869.7 597.7 L871.7 610.8 L873.8 624.4 L875.8 638.3 L877.8 652.5 L879.8 666.9 L881.9 681.2 L883.9 695.3 L885.9 709.1 L887.9 722.4 L890.0 735.2 L892.0 747.2 L894.0 758.5 L896.0 768.8 L898.1 778.1 L899.1 782.4 L900.1 786.3 L901.1 790.0 L902.1 793.4 L903.1 796.5 L904.1 799.2 L905.1 801.6 L906.2 803.8 L907.2 805.6 L908.2 807.0 L909.2 808.1 L910.2 808.9 L911.2 809.4 L912.2 809.5 L913.2 809.3 L914.2 808.8 L915.3 808.0 L916.3 806.8 L917.3 805.3 L918.3 803.5 L919.3 801.4 L920.3 799.0 L921.3 796.3 L922.3 793.3 L923.4 790.1 L924.4 786.5 L925.4 782.8 L927.4 774.5 L929.4 765.3 L931.4 755.4 L933.5 744.8 L935.5 733.6 L937.5 721.9 L939.5 710.0 L941.6 697.8 L943.6 685.6 L945.6 673.4 L947.6 661.3 L949.7 649.6 L951.7 638.2 L953.7 627.3 L955.7 617.1 L957.8 607.5 L959.8 598.8 L961.8 590.9 L962.8 587.3 L963.8 583.9 L964.8 580.8 L965.9 578.0 L966.9 575.4 L967.9 573.1 L968.9 571.1 L969.9 569.3 L970.9 567.8 L971.9 566.6 L972.9 565.7 L973.9 565.1 L975.0 564.7 L976.0 564.7 L977.0 564.9 L978.0 565.4 L979.0 566.1 L980.0 567.2 L981.0 568.5 L982.0 570.1 L983.1 571.9 L984.1 574.0 L985.1 576.4 L986.1 579.0 L987.1 581.8 L988.1 584.8 L990.1 591.6 L992.2 599.1 L994.2 607.3 L997.2 620.8 L1000.3 635.4 L1002.3 645.5 L1004.3 655.8 L1006.3 666.3 L1008.3 676.7 L1010.4 687.1 L1012.4 697.2 L1014.4 707.1 L1017.5 721.1 L1019.5 729.9 L1021.5 738.0 L1023.5 745.4 L1025.5 752.1 L1026.6 755.1 L1027.6 757.9 L1028.6 760.5 L1029.6 762.9 L1030.6 765.1 L1031.6 767.0 L1032.6 768.7 L1033.6 770.2 L1034.7 771.4 L1035.7 772.4 L1036.7 773.1 L1037.7 773.7 L1038.7 773.9 L1039.7 773.9 L1040.7 773.7 L1041.7 773.2 L1042.8 772.5 L1043.8 771.6 L1044.8 770.4 L1045.8 769.0 L1046.8 767.4 L1047.8 765.6 L1048.8 763.6 L1049.8 761.3 L1050.8 758.9 L1051.9 756.2 L1053.9 750.4 L1055.9 743.9 L1057.9 736.8 L1061.0 725.3 L1064.0 712.8 L1067.0 699.7 L1070.1 686.4 L1073.1 673.0 L1076.1 659.9 L1079.2 647.4 L1082.2 635.8 L1084.2 628.6 L1086.3 622.0 L1088.3 616.1 L1089.3 613.3 L1090.3 610.8 L1091.3 608.4 L1092.3 606.2 L1093.3 604.2 L1094.4 602.4 L1095.4 600.7 L1096.4 599.3 L1097.4 598.1 L1098.4 597.1 L1099.4 596.3 L1100.4 595.7 L1101.4 595.3 L1102.5 595.1 L1103.5 595.1 L1104.5 595.3 L1105.5 595.8 L1106.5 596.4 L1107.5 597.2 L1108.5 598.3 L1109.5 599.5 L1110.5 600.9 L1111.6 602.5 L1112.6 604.3 L1113.6 606.2 L1114.6 608.3 L1115.6 610.6 L1117.6 615.6 L1119.7 621.2 L1121.7 627.3 L1124.7 637.3 L1127.7 647.9 L1130.8 659.1 L1133.8 670.6 L1136.9 682.0 L1139.9 693.1 L1142.9 703.8 L1146.0 713.7 L1148.0 719.7 L1150.0 725.3 L1152.0 730.4 L1153.0 732.7 L1154.1 734.9 L1155.1 736.9 L1156.1 738.8 L1157.1 740.4 L1158.1 742.0 L1159.1 743.3 L1160.1 744.5 L1161.1 745.5 L1162.1 746.4 L1163.2 747.0 L1164.2 747.5 L1165.2 747.8 L1166.2 747.9 L1167.2 747.9 L1168.2 747.7 L1169.2 747.3 L1170.2 746.7 L1171.3 746.0 L1172.3 745.1 L1173.3 744.0 L1174.3 742.8 L1175.3 741.4 L1176.3 739.8 L1177.3 738.1 L1178.3 736.3 L1180.4 732.2 L1182.4 727.6 L1184.4 722.6 L1186.4 717.2 L1189.5 708.4 L1193.5 695.9 L1196.6 686.1 L1199.6 676.3 L1202.6 666.7 L1206.7 654.5 L1209.7 646.1 L1211.7 641.0 L1213.8 636.2 L1215.8 631.9 L1216.8 630.0 L1217.8 628.2 L1218.8 626.5 L1219.8 624.9 L1220.8 623.5 L1221.8 622.2 L1222.9 621.1 L1223.9 620.1 L1224.9 619.2 L1225.9 618.5 L1226.9 618.0 L1227.9 617.6 L1228.9 617.4 L1229.9 617.3 L1231.0 617.4 L1232.0 617.6 L1233.0 617.9 L1234.0 618.5 L1235.0 619.1 L1236.0 619.9 L1237.0 620.8 L1238.0 621.9 L1239.1 623.1 L1240.1 624.5 L1241.1 625.9 L1242.1 627.5 L1244.1 631.0 L1246.1 635.0 L1248.2 639.3 L1251.2 646.4 L1255.2 656.8 L1259.3 667.8 L1263.3 678.9 L1267.4 689.8 L1270.4 697.5 L1273.5 704.7 L1275.5 709.1 L1277.5 713.1 L1279.5 716.7 L1281.5 719.9 L1282.6 721.4 L1283.6 722.7 L1284.6 723.9 L1285.6 724.9 L1286.6 725.9 L1287.6 726.7 L1288.6 727.4 L1289.6 728.0 L1290.7 728.4 L1291.7 728.7 L1292.7 728.9 L1293.7 729.0 L1294.7 728.9 L1295.7 728.7 L1296.7 728.3 L1297.7 727.9 L1298.7 727.3 L1299.8 726.6 L1300.8 725.8 L1301.8 724.8 L1302.8 723.8 L1303.8 722.6 L1304.8 721.3 L1306.8 718.5 L1308.9 715.3 L1310.9 711.7 L1312.9 707.8 L1316.0 701.5 L1321.0 690.1 L1325.1 680.6 L1329.1 671.2 L1333.2 662.2 L1336.2 655.9 L1338.2 652.0 L1340.2 648.5 L1342.3 645.2 L1344.3 642.3 L1345.3 641.0 L1346.3 639.8 L1347.3 638.7 L1348.3 637.7 L1349.3 636.8 L1350.4 636.0 L1351.4 635.3 L1352.4 634.8 L1353.4 634.3 L1354.4 633.9 L1355.4 633.7 L1356.4 633.6 L1357.4 633.5 L1358.4 633.6 L1359.5 633.8 L1360.5 634.1 L1361.5 634.5 L1362.5 635.0 L1363.5 635.7 L1364.5 636.4 L1365.5 637.2 L1366.5 638.1 L1367.6 639.1 L1369.6 641.4 L1371.6 644.0 L1373.6 647.0 L1375.6 650.2 L1378.7 655.4 L1383.7 665.0 L1388.8 675.2 L1393.9 685.2 L1397.9 692.7 L1400.9 697.9 L1403.0 701.1 L1405.0 704.0 L1407.0 706.6 L1409.0 708.8 L1410.1 709.9 L1411.1 710.8 L1412.1 711.6 L1413.1 712.4 L1414.1 713.1 L1415.1 713.6 L1416.1 714.1 L1417.1 714.5 L1418.1 714.8 L1419.2 715.0 L1420.2 715.1 L1421.2 715.1 L1422.2 715.0 L1423.2 714.8 L1424.2 714.5 L1425.2 714.2 L1426.2 713.7 L1427.3 713.2 L1428.3 712.5 L1429.3 711.8 L1430.3 711.0 L1432.3 709.2 L1434.3 707.1 L1436.4 704.7 L1438.4 702.0 L1441.4 697.6 L1445.5 691.2 L1451.5 680.9 L1456.6 672.3 L1460.6 665.8 L1463.7 661.2 L1465.7 658.5 L1467.7 655.9 L1469.8 653.6 L1471.8 651.5 L1473.8 649.7 L1474.8 648.9 L1475.8 648.2 L1476.8 647.6 L1477.8 647.0 L1478.9 646.6 L1479.9 646.2 L1480.9 645.8 L1481.9 645.6 L1482.9 645.5 L1483.9 645.4 L1484.9 645.4 L1485.9 645.5 L1487.0 645.7 L1488.0 645.9 L1489.0 646.2 L1490.0 646.6 L1491.0 647.1 L1492.0 647.7 L1494.0 649.0 L1496.1 650.6 L1498.1 652.4 L1500.1 654.5 L1502.1 656.7 L1505.2 660.5 L1510.2 667.4 L1516.3 676.3 L1522.4 685.0 L1525.4 689.1 L1528.4 692.8 L1530.5 695.1 L1532.5 697.2 L1534.5 699.0 L1536.5 700.7 L1538.6 702.0 L1540.6 703.2 L1541.6 703.6 L1542.6 704.0 L1543.6 704.3 L1544.6 704.6 L1545.6 704.8 L1546.7 704.9 L1547.7 704.9 L1548.7 704.9 L1549.7 704.8 L1550.7 704.7 L1551.7 704.5 L1552.7 704.2 L1554.7 703.4 L1556.8 702.4 L1558.8 701.1 L1560.8 699.6 L1562.8 697.9 L1564.9 696.1 L1567.9 693.0 L1571.9 688.3 L1579.0 679.6 L1586.1 670.9 L1590.2 666.3 L1593.2 663.3 L1595.2 661.4 L1597.2 659.7 L1599.3 658.3 L1601.3 657.0 L1603.3 655.9 L1605.3 655.1 L1607.4 654.5 L1609.4 654.2 L1611.4 654.0 L1613.4 654.2 L1615.5 654.5 L1617.5 655.1 L1619.5 655.8 L1621.5 656.8 L1623.6 658.0 L1625.6 659.4 L1627.6 660.9 L1630.6 663.5 L1634.7 667.4 L1641.8 674.8 L1648.8 682.3 L1652.9 686.3 L1655.9 689.0 L1659.0 691.4 L1661.0 692.8 L1663.0 694.0 L1665.0 695.1 L1667.1 696.0 L1669.1 696.7 L1671.1 697.2 L1673.1 697.5 L1675.2 697.5 L1677.2 697.4 L1679.2 697.1 L1681.2 696.6 L1683.3 695.9 L1685.3 695.1 L1687.3 694.0 L1689.3 692.9 L1692.4 690.8 L1696.4 687.7 L1704.5 680.6 L1712.6 673.2 L1716.6 669.9 L1719.7 667.6 L1722.7 665.5 L1724.7 664.3 L1726.8 663.3 L1728.8 662.4 L1730.8 661.6 L1732.8 661.1 L1734.9 660.7 L1736.9 660.4 L1738.9 660.4 L1740.9 660.5 L1743.0 660.8 L1745.0 661.2 L1747.0 661.8 L1749.0 662.5 L1751.0 663.4 L1754.1 665.0 L1757.1 666.9 L1762.2 670.4 L1770.3 676.6 L1777.4 682.0 L1781.4 684.8 L1784.4 686.7 L1787.5 688.3 L1790.5 689.7 L1792.5 690.5 L1794.6 691.1 L1796.6 691.6 L1798.6 691.9 L1800.6 692.1 L1802.7 692.1 L1804.7 692.0 L1806.7 691.8 L1808.7 691.4 L1810.7 690.9 L1813.8 689.8 L1816.8 688.6 L1820.9 686.5 L1826.9 682.8 L1836.0 676.8 L1842.1 672.9 L1846.2 670.6 L1849.2 669.1 L1852.2 667.8 L1855.3 666.7 L1858.3 665.8 L1860.3 665.4 L1862.3 665.2 L1864.4 665.0 L1866.4 665.0 L1868.4 665.1 L1871.5 665.5 L1874.5 666.1 L1877.5 667.0 L1880.6 668.1 L1884.6 669.9 L1891.7 673.6 L1900.8 678.8 L1906.9 682.0 L1910.9 683.9 L1915.0 685.5 L1918.0 686.5 L1921.0 687.3 L1924.1 687.8 L1927.1 688.1 L1930.1 688.2 L1933.2 688.0 L1936.2 687.6 L1939.3 687.0 L1943.3 685.8 L1947.3 684.3 L1954.4 681.2 L1963.5 676.8 L1970.6 673.6 L1975.7 671.6 L1979.7 670.3 L1982.8 669.5 L1985.8 668.9 L1988.8 668.5 L1991.9 668.4 L1994.9 668.4 L1997.9 668.6 L2001.0 669.1 L2005.0 669.9 L2010.1 671.4 L2018.2 674.4 L2028.3 678.6 L2035.4 681.3 L2040.4 682.9 L2044.5 683.9 L2048.5 684.7 L2052.6 685.2 L2056.6 685.3 L2060.7 685.1 L2064.7 684.7 L2068.8 683.9 L2073.8 682.7 L2083.9 679.4 L2094.1 675.8 L2101.1 673.6 L2106.2 672.4 L2111.3 671.5 L2115.3 671.0 L2119.4 670.8 L2123.4 670.9 L2127.5 671.3 L2132.5 672.0 L2139.6 673.6 L2149.7 676.5 L2159.8 679.5 L2166.9 681.3 L2172.0 682.3 L2177.0 682.9 L2182.1 683.2 L2187.2 683.1 L2192.2 682.7 L2198.3 681.8 L2208.4 679.6 L2218.5 677.0 L2228.6 674.6 L2235.7 673.4 L2241.8 672.8 L2246.9 672.6 L2252.9 672.8 L2259.0 673.4 L2268.1 674.9 L2278.2 677.1 L2288.3 679.3 L2296.4 680.6 L2303.5 681.4 L2309.6 681.7 L2315.7 681.5 L2322.7 681.0 L2332.9 679.5"/>
</g>
<line x1="267.0" y1="677.5" x2="2375.0" y2="677.5" stroke="#000" stroke-width="2.0"/>
<g stroke="#000" stroke-width="2.2" fill="none" stroke-linecap="butt">
<line x1="267.0" y1="26" x2="2376.1" y2="26"/>
<line x1="2375" y1="26.0" x2="2375" y2="1329.0"/>
<line x1="308.26" y1="26.0" x2="308.26" y2="41.0"/>
<line x1="389.21" y1="26.0" x2="389.21" y2="35.0"/>
<line x1="470.16" y1="26.0" x2="470.16" y2="35.0"/>
<line x1="551.10" y1="26.0" x2="551.10" y2="35.0"/>
<line x1="632.05" y1="26.0" x2="632.05" y2="35.0"/>
<line x1="713.00" y1="26.0" x2="713.00" y2="41.0"/>
<line x1="793.95" y1="26.0" x2="793.95" y2="35.0"/>
<line x1="874.90" y1="26.0" x2="874.90" y2="35.0"/>
<line x1="955.84" y1="26.0" x2="955.84" y2="35.0"/>
<line x1="1036.79" y1="26.0" x2="1036.79" y2="35.0"/>
<line x1="1117.74" y1="26.0" x2="1117.74" y2="41.0"/>
<line x1="1198.69" y1="26.0" x2="1198.69" y2="35.0"/>
<line x1="1279.64" y1="26.0" x2="1279.64" y2="35.0"/>
<line x1="1360.58" y1="26.0" x2="1360.58" y2="35.0"/>
<line x1="1441.53" y1="26.0" x2="1441.53" y2="35.0"/>
<line x1="1522.48" y1="26.0" x2="1522.48" y2="41.0"/>
<line x1="1603.43" y1="26.0" x2="1603.43" y2="35.0"/>
<line x1="1684.38" y1="26.0" x2="1684.38" y2="35.0"/>
<line x1="1765.32" y1="26.0" x2="1765.32" y2="35.0"/>
<line x1="1846.27" y1="26.0" x2="1846.27" y2="35.0"/>
<line x1="1927.22" y1="26.0" x2="1927.22" y2="41.0"/>
<line x1="2008.17" y1="26.0" x2="2008.17" y2="35.0"/>
<line x1="2089.12" y1="26.0" x2="2089.12" y2="35.0"/>
<line x1="2170.06" y1="26.0" x2="2170.06" y2="35.0"/>
<line x1="2251.01" y1="26.0" x2="2251.01" y2="35.0"/>
<line x1="2331.96" y1="26.0" x2="2331.96" y2="41.0"/>
<line x1="2375.0" y1="1322.65" x2="2365.0" y2="1322.65"/>
<line x1="2375.0" y1="1264.00" x2="2359.0" y2="1264.00"/>
<line x1="2375.0" y1="1205.35" x2="2365.0" y2="1205.35"/>
<line x1="2375.0" y1="1146.70" x2="2365.0" y2="1146.70"/>
<line x1="2375.0" y1="1088.05" x2="2365.0" y2="1088.05"/>
<line x1="2375.0" y1="1029.40" x2="2365.0" y2="1029.40"/>
<line x1="2375.0" y1="970.75" x2="2359.0" y2="970.75"/>
<line x1="2375.0" y1="912.10" x2="2365.0" y2="912.10"/>
<line x1="2375.0" y1="853.45" x2="2365.0" y2="853.45"/>
<line x1="2375.0" y1="794.80" x2="2365.0" y2="794.80"/>
<line x1="2375.0" y1="736.15" x2="2365.0" y2="736.15"/>
<line x1="2375.0" y1="677.50" x2="2359.0" y2="677.50"/>
<line x1="2375.0" y1="618.85" x2="2365.0" y2="618.85"/>
<line x1="2375.0" y1="560.20" x2="2365.0" y2="560.20"/>
<line x1="2375.0" y1="501.55" x2="2365.0" y2="501.55"/>
<line x1="2375.0" y1="442.90" x2="2365.0" y2="442.90"/>
<line x1="2375.0" y1="384.25" x2="2359.0" y2="384.25"/>
<line x1="2375.0" y1="325.60" x2="2365.0" y2="325.60"/>
<line x1="2375.0" y1="266.95" x2="2365.0" y2="266.95"/>
<line x1="2375.0" y1="208.30" x2="2365.0" y2="208.30"/>
<line x1="2375.0" y1="149.65" x2="2365.0" y2="149.65"/>
<line x1="2375.0" y1="91.00" x2="2359.0" y2="91.00"/>
<line x1="2375.0" y1="32.35" x2="2365.0" y2="32.35"/>
</g>
<g stroke="#000" stroke-width="8" fill="none" stroke-linecap="butt">
<line x1="267.0" y1="22.0" x2="267.0" y2="1333.0"/>
<line x1="263.0" y1="1329.0" x2="2379.0" y2="1329.0"/>
<line x1="309.16" y1="1329.0" x2="309.16" y2="1314.0"/>
<line x1="390.11" y1="1329.0" x2="390.11" y2="1320.0"/>
<line x1="471.06" y1="1329.0" x2="471.06" y2="1320.0"/>
<line x1="552.00" y1="1329.0" x2="552.00" y2="1320.0"/>
<line x1="632.95" y1="1329.0" x2="632.95" y2="1320.0"/>
<line x1="713.90" y1="1329.0" x2="713.90" y2="1314.0"/>
<line x1="794.85" y1="1329.0" x2="794.85" y2="1320.0"/>
<line x1="875.80" y1="1329.0" x2="875.80" y2="1320.0"/>
<line x1="956.74" y1="1329.0" x2="956.74" y2="1320.0"/>
<line x1="1037.69" y1="1329.0" x2="1037.69" y2="1320.0"/>
<line x1="1118.64" y1="1329.0" x2="1118.64" y2="1314.0"/>
<line x1="1199.59" y1="1329.0" x2="1199.59" y2="1320.0"/>
<line x1="1280.54" y1="1329.0" x2="1280.54" y2="1320.0"/>
<line x1="1361.48" y1="1329.0" x2="1361.48" y2="1320.0"/>
<line x1="1442.43" y1="1329.0" x2="1442.43" y2="1320.0"/>
<line x1="1523.38" y1="1329.0" x2="1523.38" y2="1314.0"/>
<line x1="1604.33" y1="1329.0" x2="1604.33" y2="1320.0"/>
<line x1="1685.28" y1="1329.0" x2="1685.28" y2="1320.0"/>
<line x1="1766.22" y1="1329.0" x2="1766.22" y2="1320.0"/>
<line x1="1847.17" y1="1329.0" x2="1847.17" y2="1320.0"/>
<line x1="1928.12" y1="1329.0" x2="1928.12" y2="1314.0"/>
<line x1="2009.07" y1="1329.0" x2="2009.07" y2="1320.0"/>
<line x1="2090.02" y1="1329.0" x2="2090.02" y2="1320.0"/>
<line x1="2170.96" y1="1329.0" x2="2170.96" y2="1320.0"/>
<line x1="2251.91" y1="1329.0" x2="2251.91" y2="1320.0"/>
<line x1="2332.86" y1="1329.0" x2="2332.86" y2="1314.0"/>
<line x1="267.0" y1="1322.65" x2="276.0" y2="1322.65"/>
<line x1="267.0" y1="1264.00" x2="282.0" y2="1264.00"/>
<line x1="267.0" y1="1205.35" x2="276.0" y2="1205.35"/>
<line x1="267.0" y1="1146.70" x2="276.0" y2="1146.70"/>
<line x1="267.0" y1="1088.05" x2="276.0" y2="1088.05"/>
<line x1="267.0" y1="1029.40" x2="276.0" y2="1029.40"/>
<line x1="267.0" y1="970.75" x2="282.0" y2="970.75"/>
<line x1="267.0" y1="912.10" x2="276.0" y2="912.10"/>
<line x1="267.0" y1="853.45" x2="276.0" y2="853.45"/>
<line x1="267.0" y1="794.80" x2="276.0" y2="794.80"/>
<line x1="267.0" y1="736.15" x2="276.0" y2="736.15"/>
<line x1="267.0" y1="677.50" x2="282.0" y2="677.50"/>
<line x1="267.0" y1="618.85" x2="276.0" y2="618.85"/>
<line x1="267.0" y1="560.20" x2="276.0" y2="560.20"/>
<line x1="267.0" y1="501.55" x2="276.0" y2="501.55"/>
<line x1="267.0" y1="442.90" x2="276.0" y2="442.90"/>
<line x1="267.0" y1="384.25" x2="282.0" y2="384.25"/>
<line x1="267.0" y1="325.60" x2="276.0" y2="325.60"/>
<line x1="267.0" y1="266.95" x2="276.0" y2="266.95"/>
<line x1="267.0" y1="208.30" x2="276.0" y2="208.30"/>
<line x1="267.0" y1="149.65" x2="276.0" y2="149.65"/>
<line x1="267.0" y1="91.00" x2="282.0" y2="91.00"/>
<line x1="267.0" y1="32.35" x2="276.0" y2="32.35"/>
</g>
<text class="sb" font-size="67" transform="translate(306.16 1398.9) scale(1 1.03)" text-anchor="middle" stroke="#000" stroke-width="0.8">0</text>
<text class="sb" font-size="67" transform="translate(710.9 1398.9) scale(1 1.03)" text-anchor="middle" stroke="#000" stroke-width="0.8">1</text>
<text class="sb" font-size="67" transform="translate(1115.64 1398.9) scale(1 1.03)" text-anchor="middle" stroke="#000" stroke-width="0.8">2</text>
<text class="sb" font-size="67" transform="translate(1520.38 1398.9) scale(1 1.03)" text-anchor="middle" stroke="#000" stroke-width="0.8">3</text>
<text class="sb" font-size="67" transform="translate(1925.12 1398.9) scale(1 1.03)" text-anchor="middle" stroke="#000" stroke-width="0.8">4</text>
<text class="sb" font-size="67" transform="translate(2329.86 1398.9) scale(1 1.03)" text-anchor="middle" stroke="#000" stroke-width="0.8">5</text>
<text class="sb" font-size="67" transform="translate(252.2 110.8) scale(1 1.03)" text-anchor="end" stroke="#000" stroke-width="0.8">1.0</text>
<text class="sb" font-size="67" transform="translate(252.2 404.05) scale(1 1.03)" text-anchor="end" stroke="#000" stroke-width="0.8">0.5</text>
<text class="sb" font-size="67" transform="translate(252.2 697.3) scale(1 1.03)" text-anchor="end" stroke="#000" stroke-width="0.8">0.0</text>
<text class="sb" font-size="67" transform="translate(0 990.55) scale(1 1.03)" stroke="#000" stroke-width="0.8"><tspan x="115.63" y="5.2" stroke-width="2.3">−</tspan><tspan x="159.06" y="0">0.5</tspan></text>
<text class="sb" font-size="67" transform="translate(0 1283.8) scale(1 1.03)" stroke="#000" stroke-width="0.8"><tspan x="115.63" y="5.2" stroke-width="2.3">−</tspan><tspan x="159.06" y="0">1.0</tspan></text>
<text class="sb" font-size="67" transform="translate(1318 1503) scale(1 1.02)" text-anchor="middle" stroke="#000" stroke-width="0.8">x</text>
<text class="sb" font-size="66" transform="translate(75 1278.7) rotate(-90) scale(1 1.07)" stroke="#000" stroke-width="0.8">Functions, Derivative and Asymptotes</text>
<line x1="1651.5" y1="195.3" x2="1580.7" y2="123.5" stroke="#ff00ff" stroke-width="5.0"/><polygon fill="#ff00ff" points="1553.5,96.0 1592.2,118.2 1580.7,123.5 1575.2,135.0"/>
<line x1="2039.5" y1="505.3" x2="1964.0" y2="469.9" stroke="#ff8000" stroke-width="5.0"/><polygon fill="#ff8000" points="1929.0,453.5 1973.0,460.9 1964.0,469.9 1962.8,482.6"/>
<line x1="2146.0" y1="939.7" x2="2065.1" y2="1032.1" stroke="#0000ff" stroke-width="5.0"/><polygon fill="#0000ff" points="2039.6,1061.2 2058.9,1020.9 2065.1,1032.1 2077.0,1036.8"/>
<line x1="1748.3" y1="1098.3" x2="1781.8" y2="1013.4" stroke="#ff0000" stroke-width="5.0"/><polygon fill="#ff0000" points="1796.0,977.4 1791.4,1021.8 1781.8,1013.4 1769.1,1012.9"/>
<line x1="1209.0" y1="947.4" x2="1177.3" y2="783.0" stroke="#000000" stroke-width="5.0"/><polygon fill="#000000" points="1170.0,745.0 1189.9,785.0 1177.3,783.0 1166.4,789.5"/>
<text class="se" font-size="68" stroke="#000" stroke-width="0.8"><tspan x="1661" y="226" class="it" textLength="37.48" lengthAdjust="spacingAndGlyphs">α</tspan><tspan x="1699.2" y="238.5" font-size="48">0</tspan> <tspan x="1754.9" y="231.9" textLength="41.65" lengthAdjust="spacingAndGlyphs" stroke-width="1.3">=</tspan> <tspan x="1825" y="226" textLength="82.02" lengthAdjust="spacingAndGlyphs">0.5</tspan></text>
<text class="se" font-size="68" stroke="#000" stroke-width="0.8"><tspan x="2051.5" y="524.7" class="it" textLength="37.48" lengthAdjust="spacingAndGlyphs">α</tspan><tspan x="2089.7" y="537.2" font-size="48">0</tspan> <tspan x="2145.4" y="530.6" textLength="41.65" lengthAdjust="spacingAndGlyphs" stroke-width="1.3">=</tspan> <tspan x="2215.5" y="524.7" textLength="82.02" lengthAdjust="spacingAndGlyphs">0.9</tspan></text>
<text class="se" font-size="68" stroke="#000" stroke-width="0.8"><tspan x="2054.5" y="919.5" class="it" textLength="37.48" lengthAdjust="spacingAndGlyphs">α</tspan><tspan x="2092.7" y="932" font-size="48">0</tspan> <tspan x="2148.4" y="925.4" textLength="41.65" lengthAdjust="spacingAndGlyphs" stroke-width="1.3">=</tspan> <tspan x="2218.5" y="919.5" textLength="82.02" lengthAdjust="spacingAndGlyphs">0.1</tspan></text>
<text class="se" font-size="68" stroke="#000" stroke-width="0.8"><tspan x="1664" y="1162.5" class="it" textLength="25.51" lengthAdjust="spacingAndGlyphs">f</tspan><tspan x="1703.5" y="1162.5">(</tspan><tspan x="1726" y="1162.5" class="it">x</tspan><tspan x="1756" y="1162.5">)</tspan></text>
<text class="se" font-size="68" stroke="#000" stroke-width="0.8"><tspan x="754.6" y="1051.4" class="it" textLength="37.48" lengthAdjust="spacingAndGlyphs">α</tspan><tspan x="792.8" y="1063.9" font-size="48">0</tspan> <tspan x="848.5" y="1057.3" textLength="41.65" lengthAdjust="spacingAndGlyphs" stroke-width="1.3">=</tspan> <tspan x="919" y="1051.4">1</tspan> <tspan x="980" y="1053.4">:</tspan> <tspan x="1050.5" y="999.3" class="it" textLength="36.72" lengthAdjust="spacingAndGlyphs">d</tspan><tspan x="1090" y="975.3" font-size="48" class="it">α</tspan><tspan x="1116.5" y="975.3" font-size="48">(</tspan><tspan x="1132" y="975.3" font-size="48" class="it">x</tspan><tspan x="1152.5" y="975.3" font-size="48">)</tspan> <tspan x="1036.5" y="1108.8" class="bd" textLength="67.15" lengthAdjust="spacingAndGlyphs" stroke-width="0.01">dx</tspan><tspan x="1103.5" y="1084.3" font-size="48" class="it">α</tspan><tspan x="1130" y="1084.3" font-size="48">(</tspan><tspan x="1145.5" y="1084.3" font-size="48" class="it">x</tspan><tspan x="1166" y="1084.3" font-size="48">)</tspan> <tspan x="1211" y="1051.4" class="it" textLength="25.51" lengthAdjust="spacingAndGlyphs">f</tspan><tspan x="1250.5" y="1051.4">(</tspan><tspan x="1273" y="1051.4" class="it">x</tspan><tspan x="1303" y="1051.4">)</tspan> <tspan x="1354.1" y="1057.3" textLength="41.65" lengthAdjust="spacingAndGlyphs" stroke-width="1.3">=</tspan> <tspan x="1424" y="1051.4" class="it" textLength="37.4" lengthAdjust="spacingAndGlyphs">g</tspan><tspan x="1463.5" y="1051.4">(</tspan><tspan x="1486" y="1051.4" class="it">x</tspan><tspan x="1516" y="1051.4">)</tspan></text>
<rect x="1039" y="1030" width="151" height="5" fill="#000"/>
</svg></body></html>
